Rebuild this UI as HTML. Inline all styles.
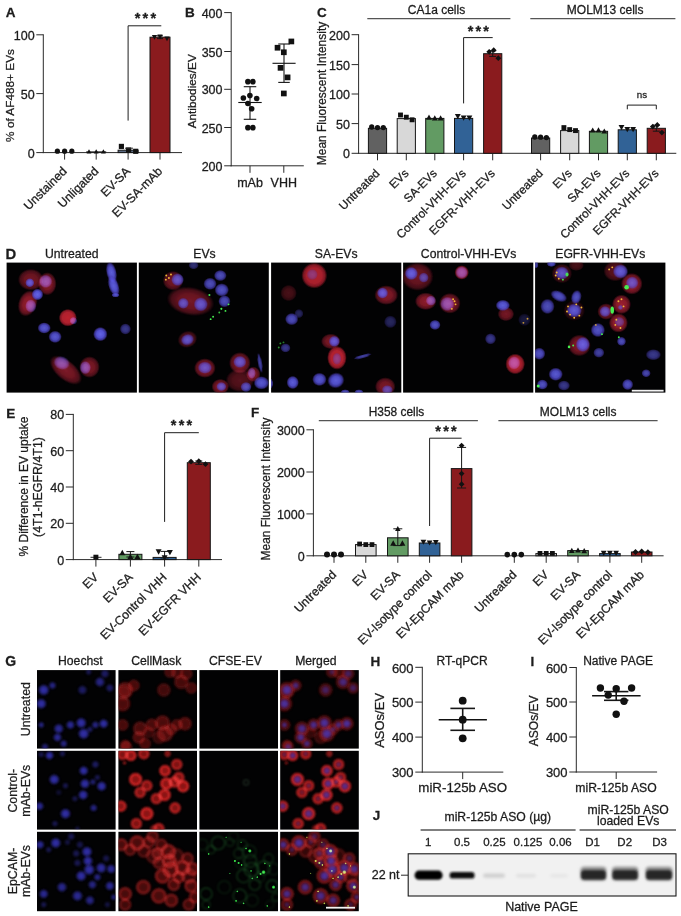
<!DOCTYPE html>
<html lang="en">
<head>
<meta charset="utf-8">
<title>Figure</title>
<style>
html,body{margin:0;padding:0;background:#ffffff;}
body{width:681px;height:916px;overflow:hidden;}
svg{display:block;font-family:"Liberation Sans",sans-serif;}
text{stroke:#1c1c1c;stroke-width:0.28px;}
</style>
</head>
<body>
<svg width="681" height="916" viewBox="0 0 681 916">
<defs>
<radialGradient id="gR" cx="50%" cy="50%" r="50%"><stop offset="0" stop-color="#9c2032" stop-opacity="1"/><stop offset="0.5" stop-color="#941c2c" stop-opacity="0.93"/><stop offset="0.8" stop-color="#7a1626" stop-opacity="0.75"/><stop offset="1" stop-color="#5a0f1a" stop-opacity="0"/></radialGradient>
<radialGradient id="gB" cx="50%" cy="50%" r="50%"><stop offset="0" stop-color="#6c6cf8" stop-opacity="1"/><stop offset="0.5" stop-color="#5e5cee" stop-opacity="0.96"/><stop offset="0.78" stop-color="#5248d0" stop-opacity="0.75"/><stop offset="1" stop-color="#402c90" stop-opacity="0"/></radialGradient>
<radialGradient id="gR2" cx="50%" cy="50%" r="50%"><stop offset="0" stop-color="#bc222e" stop-opacity="1"/><stop offset="0.6" stop-color="#b42030" stop-opacity="0.97"/><stop offset="0.82" stop-color="#981a28" stop-opacity="0.85"/><stop offset="1" stop-color="#701018" stop-opacity="0"/></radialGradient>
<radialGradient id="gG" cx="50%" cy="50%" r="50%"><stop offset="0" stop-color="#60ff70" stop-opacity="1"/><stop offset="0.5" stop-color="#30e040" stop-opacity="0.9"/><stop offset="1" stop-color="#20a030" stop-opacity="0"/></radialGradient>
<radialGradient id="gYG" cx="50%" cy="50%" r="50%"><stop offset="0" stop-color="#e8ff60" stop-opacity="1"/><stop offset="0.5" stop-color="#b0e040" stop-opacity="0.9"/><stop offset="1" stop-color="#60a030" stop-opacity="0"/></radialGradient>
<radialGradient id="gY" cx="50%" cy="50%" r="50%"><stop offset="0" stop-color="#ffd040" stop-opacity="1"/><stop offset="0.5" stop-color="#e0a030" stop-opacity="0.9"/><stop offset="1" stop-color="#a06020" stop-opacity="0"/></radialGradient>
<radialGradient id="hB" cx="50%" cy="50%" r="50%"><stop offset="0" stop-color="#3634b6" stop-opacity="1"/><stop offset="0.5" stop-color="#2f2da4" stop-opacity="0.95"/><stop offset="0.8" stop-color="#262486" stop-opacity="0.7"/><stop offset="1" stop-color="#1c1c60" stop-opacity="0"/></radialGradient>
<radialGradient id="hBm" cx="50%" cy="50%" r="50%"><stop offset="0" stop-color="#5038b4" stop-opacity="0.95"/><stop offset="0.5" stop-color="#4a32a6" stop-opacity="0.88"/><stop offset="0.8" stop-color="#4a288c" stop-opacity="0.5"/><stop offset="1" stop-color="#401870" stop-opacity="0"/></radialGradient>
<radialGradient id="hR0" cx="50%" cy="50%" r="50%"><stop offset="0" stop-color="#5c1010" stop-opacity="0.85"/><stop offset="0.5" stop-color="#641212" stop-opacity="0.88"/><stop offset="0.78" stop-color="#781616" stop-opacity="0.85"/><stop offset="1" stop-color="#400a0a" stop-opacity="0"/></radialGradient>
<radialGradient id="hR1" cx="50%" cy="50%" r="50%"><stop offset="0" stop-color="#861414" stop-opacity="0.95"/><stop offset="0.45" stop-color="#9c1818" stop-opacity="0.95"/><stop offset="0.74" stop-color="#e02a2a" stop-opacity="1"/><stop offset="0.88" stop-color="#b01c1c" stop-opacity="0.7"/><stop offset="1" stop-color="#701010" stop-opacity="0"/></radialGradient>
<radialGradient id="hR2" cx="50%" cy="50%" r="50%"><stop offset="0" stop-color="#561010" stop-opacity="0.9"/><stop offset="0.5" stop-color="#621212" stop-opacity="0.92"/><stop offset="0.76" stop-color="#a81e1e" stop-opacity="0.95"/><stop offset="0.9" stop-color="#841616" stop-opacity="0.6"/><stop offset="1" stop-color="#400a0a" stop-opacity="0"/></radialGradient>
<filter id="mb" x="-20%" y="-20%" width="140%" height="140%"><feGaussianBlur stdDeviation="0.7"/></filter>
<filter id="mb2" x="-30%" y="-30%" width="160%" height="160%"><feGaussianBlur stdDeviation="0.8"/></filter>
<filter id="mb3" x="-100%" y="-100%" width="300%" height="300%"><feGaussianBlur stdDeviation="0.35"/></filter>
<clipPath id="mc1"><rect x="6.60" y="262.60" width="130.30" height="130.00"/></clipPath>
<clipPath id="mc2"><rect x="138.80" y="262.60" width="130.00" height="130.00"/></clipPath>
<clipPath id="mc3"><rect x="271.10" y="262.60" width="130.20" height="130.00"/></clipPath>
<clipPath id="mc4"><rect x="403.10" y="262.60" width="130.20" height="130.00"/></clipPath>
<clipPath id="mc5"><rect x="535.10" y="262.60" width="130.30" height="130.00"/></clipPath>
<clipPath id="mc6"><rect x="37.00" y="670.10" width="78.60" height="78.50"/></clipPath>
<clipPath id="mc7"><rect x="118.40" y="670.10" width="78.60" height="78.50"/></clipPath>
<clipPath id="mc8"><rect x="199.40" y="670.10" width="78.60" height="78.50"/></clipPath>
<clipPath id="mc9"><rect x="280.20" y="670.10" width="78.60" height="78.50"/></clipPath>
<clipPath id="mc10"><rect x="37.00" y="750.80" width="78.60" height="78.80"/></clipPath>
<clipPath id="mc11"><rect x="118.40" y="750.80" width="78.60" height="78.80"/></clipPath>
<clipPath id="mc12"><rect x="199.40" y="750.80" width="78.60" height="78.80"/></clipPath>
<clipPath id="mc13"><rect x="280.20" y="750.80" width="78.60" height="78.80"/></clipPath>
<clipPath id="mc14"><rect x="37.00" y="831.80" width="78.60" height="79.40"/></clipPath>
<clipPath id="mc15"><rect x="118.40" y="831.80" width="78.60" height="79.40"/></clipPath>
<clipPath id="mc16"><rect x="199.40" y="831.80" width="78.60" height="79.40"/></clipPath>
<clipPath id="mc17"><rect x="280.20" y="831.80" width="78.60" height="79.40"/></clipPath>
<filter id="gb" x="-20%" y="-60%" width="140%" height="220%"><feGaussianBlur stdDeviation="1.3 1.1"/></filter>
<filter id="gb2" x="-20%" y="-60%" width="140%" height="220%"><feGaussianBlur stdDeviation="1.8 1.6"/></filter>
<clipPath id="gelclip"><rect x="408.7" y="854.2" width="267" height="41.4"/></clipPath>
</defs>
<rect x="0" y="0" width="681" height="916" fill="#ffffff"/>
<text x="5.70" y="17.40" font-size="13.5" font-weight="bold" fill="#1c1c1c">A</text>
<line x1="43.30" y1="34.30" x2="43.30" y2="153.10" stroke="#2a2a2a" stroke-width="1.0"/>
<line x1="36.30" y1="34.80" x2="43.30" y2="34.80" stroke="#2a2a2a" stroke-width="1.0"/>
<text x="34.60" y="39.80" font-size="12.5" text-anchor="end" fill="#1c1c1c">100</text>
<line x1="36.30" y1="93.60" x2="43.30" y2="93.60" stroke="#2a2a2a" stroke-width="1.0"/>
<text x="34.60" y="98.60" font-size="12.5" text-anchor="end" fill="#1c1c1c">50</text>
<line x1="36.30" y1="152.60" x2="43.30" y2="152.60" stroke="#2a2a2a" stroke-width="1.0"/>
<text x="34.60" y="157.60" font-size="12.5" text-anchor="end" fill="#1c1c1c">0</text>
<line x1="42.80" y1="152.60" x2="182.00" y2="152.60" stroke="#2a2a2a" stroke-width="1.0"/>
<line x1="64.60" y1="152.60" x2="64.60" y2="159.60" stroke="#2a2a2a" stroke-width="1.0"/>
<line x1="96.20" y1="152.60" x2="96.20" y2="159.60" stroke="#2a2a2a" stroke-width="1.0"/>
<line x1="128.10" y1="152.60" x2="128.10" y2="159.60" stroke="#2a2a2a" stroke-width="1.0"/>
<line x1="160.00" y1="152.60" x2="160.00" y2="159.60" stroke="#2a2a2a" stroke-width="1.0"/>
<text transform="translate(14.00 95.50) rotate(-90)" font-size="11.8" text-anchor="middle" fill="#1c1c1c">% of AF488+ EVs</text>
<text transform="translate(67.60 172.00) rotate(-45)" font-size="12.2" text-anchor="end" fill="#1c1c1c">Unstained</text>
<text transform="translate(99.20 172.00) rotate(-45)" font-size="12.2" text-anchor="end" fill="#1c1c1c">Unligated</text>
<text transform="translate(131.10 172.00) rotate(-45)" font-size="12.2" text-anchor="end" fill="#1c1c1c">EV-SA</text>
<text transform="translate(163.00 172.00) rotate(-45)" font-size="12.2" text-anchor="end" fill="#1c1c1c">EV-SA-mAb</text>
<rect x="118.10" y="150.20" width="20.00" height="2.40" fill="#5a6a82" stroke="#151515" stroke-width="1.0"/>
<rect x="150.00" y="37.20" width="20.00" height="115.40" fill="#8a1b1e" stroke="#151515" stroke-width="1.0"/>
<circle cx="57.40" cy="151.20" r="2.60" fill="#111"/>
<polygon points="89.00,149.22 86.58,153.58 91.42,153.58" fill="#111"/>
<circle cx="64.60" cy="151.20" r="2.60" fill="#111"/>
<polygon points="96.20,149.22 93.78,153.58 98.62,153.58" fill="#111"/>
<circle cx="71.80" cy="151.20" r="2.60" fill="#111"/>
<polygon points="103.40,149.22 100.98,153.58 105.82,153.58" fill="#111"/>
<line x1="86.20" y1="152.00" x2="106.20" y2="152.00" stroke="#111" stroke-width="1.2"/>
<rect x="118.82" y="143.82" width="5.15" height="5.15" fill="#111"/>
<rect x="126.02" y="147.42" width="5.15" height="5.15" fill="#111"/>
<rect x="133.12" y="148.72" width="5.15" height="5.15" fill="#111"/>
<line x1="125.00" y1="148.20" x2="133.00" y2="148.20" stroke="#2a2a2a" stroke-width="1.0"/>
<line x1="160.00" y1="35.80" x2="160.00" y2="38.60" stroke="#161616" stroke-width="1.0"/>
<line x1="157.00" y1="35.80" x2="163.00" y2="35.80" stroke="#161616" stroke-width="1.0"/>
<line x1="157.00" y1="38.60" x2="163.00" y2="38.60" stroke="#161616" stroke-width="1.0"/>
<polygon points="154.50,39.78 151.86,35.02 157.14,35.02" fill="#111"/>
<polygon points="160.00,39.38 157.36,34.62 162.64,34.62" fill="#111"/>
<polygon points="167.00,41.18 164.36,36.42 169.64,36.42" fill="#111"/>
<polyline points="128.10,120.60 128.10,25.80 161.30,25.80" fill="none" stroke="#1e1e1e" stroke-width="1.0"/>
<text x="146.50" y="22.70" font-size="14.5" text-anchor="middle" font-weight="bold" fill="#1c1c1c" letter-spacing="2.2">***</text>
<text x="185.00" y="17.20" font-size="13.5" font-weight="bold" fill="#1c1c1c">B</text>
<line x1="231.20" y1="12.10" x2="231.20" y2="166.30" stroke="#2a2a2a" stroke-width="1.0"/>
<line x1="224.20" y1="12.60" x2="231.20" y2="12.60" stroke="#2a2a2a" stroke-width="1.0"/>
<text x="222.50" y="17.60" font-size="12.5" text-anchor="end" fill="#1c1c1c">400</text>
<line x1="224.20" y1="51.50" x2="231.20" y2="51.50" stroke="#2a2a2a" stroke-width="1.0"/>
<text x="222.50" y="56.50" font-size="12.5" text-anchor="end" fill="#1c1c1c">350</text>
<line x1="224.20" y1="89.30" x2="231.20" y2="89.30" stroke="#2a2a2a" stroke-width="1.0"/>
<text x="222.50" y="94.30" font-size="12.5" text-anchor="end" fill="#1c1c1c">300</text>
<line x1="224.20" y1="127.50" x2="231.20" y2="127.50" stroke="#2a2a2a" stroke-width="1.0"/>
<text x="222.50" y="132.50" font-size="12.5" text-anchor="end" fill="#1c1c1c">250</text>
<line x1="224.20" y1="165.80" x2="231.20" y2="165.80" stroke="#2a2a2a" stroke-width="1.0"/>
<text x="222.50" y="170.80" font-size="12.5" text-anchor="end" fill="#1c1c1c">200</text>
<line x1="230.70" y1="165.80" x2="303.80" y2="165.80" stroke="#2a2a2a" stroke-width="1.0"/>
<line x1="250.00" y1="165.80" x2="250.00" y2="172.80" stroke="#2a2a2a" stroke-width="1.0"/>
<line x1="283.80" y1="165.80" x2="283.80" y2="172.80" stroke="#2a2a2a" stroke-width="1.0"/>
<text transform="translate(196.00 91.30) rotate(-90)" font-size="11.8" text-anchor="middle" fill="#1c1c1c">Antibodies/EV</text>
<text x="250.00" y="187.20" font-size="12.5" text-anchor="middle" fill="#1c1c1c">mAb</text>
<text x="283.80" y="187.20" font-size="12.5" text-anchor="middle" fill="#1c1c1c">VHH</text>
<line x1="238.30" y1="102.50" x2="261.70" y2="102.50" stroke="#111" stroke-width="1.1"/>
<line x1="250.00" y1="86.70" x2="250.00" y2="119.30" stroke="#161616" stroke-width="1.1"/>
<line x1="243.75" y1="86.70" x2="256.25" y2="86.70" stroke="#161616" stroke-width="1.1"/>
<line x1="243.75" y1="119.30" x2="256.25" y2="119.30" stroke="#161616" stroke-width="1.1"/>
<circle cx="247.89" cy="81.66" r="2.80" fill="#111"/>
<circle cx="252.91" cy="81.66" r="2.80" fill="#111"/>
<circle cx="243.37" cy="97.99" r="2.80" fill="#111"/>
<circle cx="249.90" cy="95.48" r="2.80" fill="#111"/>
<circle cx="256.68" cy="98.49" r="2.80" fill="#111"/>
<circle cx="247.89" cy="103.52" r="2.80" fill="#111"/>
<circle cx="251.66" cy="108.79" r="2.80" fill="#111"/>
<circle cx="247.89" cy="127.64" r="2.80" fill="#111"/>
<circle cx="252.91" cy="127.64" r="2.80" fill="#111"/>
<line x1="272.50" y1="63.30" x2="295.60" y2="63.30" stroke="#111" stroke-width="1.1"/>
<line x1="284.00" y1="44.00" x2="284.00" y2="82.40" stroke="#161616" stroke-width="1.1"/>
<line x1="278.25" y1="44.00" x2="289.75" y2="44.00" stroke="#161616" stroke-width="1.1"/>
<line x1="278.25" y1="82.40" x2="289.75" y2="82.40" stroke="#161616" stroke-width="1.1"/>
<rect x="288.50" y="38.61" width="5.70" height="5.70" fill="#111"/>
<rect x="274.69" y="44.89" width="5.70" height="5.70" fill="#111"/>
<rect x="280.97" y="49.41" width="5.70" height="5.70" fill="#111"/>
<rect x="277.70" y="64.99" width="5.70" height="5.70" fill="#111"/>
<rect x="284.74" y="74.53" width="5.70" height="5.70" fill="#111"/>
<rect x="280.97" y="90.62" width="5.70" height="5.70" fill="#111"/>
<text x="317.00" y="17.00" font-size="13.5" font-weight="bold" fill="#1c1c1c">C</text>
<line x1="358.60" y1="34.20" x2="358.60" y2="153.80" stroke="#2a2a2a" stroke-width="1.0"/>
<line x1="351.60" y1="34.70" x2="358.60" y2="34.70" stroke="#2a2a2a" stroke-width="1.0"/>
<text x="349.90" y="39.70" font-size="12.5" text-anchor="end" fill="#1c1c1c">200</text>
<line x1="351.60" y1="64.60" x2="358.60" y2="64.60" stroke="#2a2a2a" stroke-width="1.0"/>
<text x="349.90" y="69.60" font-size="12.5" text-anchor="end" fill="#1c1c1c">150</text>
<line x1="351.60" y1="94.00" x2="358.60" y2="94.00" stroke="#2a2a2a" stroke-width="1.0"/>
<text x="349.90" y="99.00" font-size="12.5" text-anchor="end" fill="#1c1c1c">100</text>
<line x1="351.60" y1="123.60" x2="358.60" y2="123.60" stroke="#2a2a2a" stroke-width="1.0"/>
<text x="349.90" y="128.60" font-size="12.5" text-anchor="end" fill="#1c1c1c">50</text>
<line x1="351.60" y1="153.30" x2="358.60" y2="153.30" stroke="#2a2a2a" stroke-width="1.0"/>
<text x="349.90" y="158.30" font-size="12.5" text-anchor="end" fill="#1c1c1c">0</text>
<line x1="358.10" y1="153.30" x2="676.30" y2="153.30" stroke="#2a2a2a" stroke-width="1.0"/>
<line x1="377.50" y1="153.30" x2="377.50" y2="160.30" stroke="#2a2a2a" stroke-width="1.0"/>
<line x1="406.30" y1="153.30" x2="406.30" y2="160.30" stroke="#2a2a2a" stroke-width="1.0"/>
<line x1="434.80" y1="153.30" x2="434.80" y2="160.30" stroke="#2a2a2a" stroke-width="1.0"/>
<line x1="463.60" y1="153.30" x2="463.60" y2="160.30" stroke="#2a2a2a" stroke-width="1.0"/>
<line x1="492.70" y1="153.30" x2="492.70" y2="160.30" stroke="#2a2a2a" stroke-width="1.0"/>
<line x1="540.60" y1="153.30" x2="540.60" y2="160.30" stroke="#2a2a2a" stroke-width="1.0"/>
<line x1="569.70" y1="153.30" x2="569.70" y2="160.30" stroke="#2a2a2a" stroke-width="1.0"/>
<line x1="598.50" y1="153.30" x2="598.50" y2="160.30" stroke="#2a2a2a" stroke-width="1.0"/>
<line x1="627.30" y1="153.30" x2="627.30" y2="160.30" stroke="#2a2a2a" stroke-width="1.0"/>
<line x1="656.30" y1="153.30" x2="656.30" y2="160.30" stroke="#2a2a2a" stroke-width="1.0"/>
<text transform="translate(326.30 93.50) rotate(-90)" font-size="11.95" text-anchor="middle" fill="#1c1c1c">Mean Fluorescent Intensity</text>
<text transform="translate(380.50 174.00) rotate(-45)" font-size="11.8" text-anchor="end" fill="#1c1c1c">Untreated</text>
<text transform="translate(409.30 174.00) rotate(-45)" font-size="11.8" text-anchor="end" fill="#1c1c1c">EVs</text>
<text transform="translate(437.80 174.00) rotate(-45)" font-size="11.8" text-anchor="end" fill="#1c1c1c">SA-EVs</text>
<text transform="translate(466.60 174.00) rotate(-45)" font-size="11.8" text-anchor="end" fill="#1c1c1c">Control-VHH-EVs</text>
<text transform="translate(495.70 174.00) rotate(-45)" font-size="11.8" text-anchor="end" fill="#1c1c1c">EGFR-VHH-EVs</text>
<text transform="translate(543.60 174.00) rotate(-45)" font-size="11.8" text-anchor="end" fill="#1c1c1c">Untreated</text>
<text transform="translate(572.70 174.00) rotate(-45)" font-size="11.8" text-anchor="end" fill="#1c1c1c">EVs</text>
<text transform="translate(601.50 174.00) rotate(-45)" font-size="11.8" text-anchor="end" fill="#1c1c1c">SA-EVs</text>
<text transform="translate(630.30 174.00) rotate(-45)" font-size="11.8" text-anchor="end" fill="#1c1c1c">Control-VHH-EVs</text>
<text transform="translate(659.30 174.00) rotate(-45)" font-size="11.8" text-anchor="end" fill="#1c1c1c">EGFR-VHH-EVs</text>
<text x="436.50" y="13.90" font-size="12.0" text-anchor="middle" fill="#1c1c1c">CA1a cells</text>
<text x="605.20" y="13.90" font-size="12.0" text-anchor="middle" fill="#1c1c1c">MOLM13 cells</text>
<line x1="367.30" y1="18.70" x2="510.40" y2="18.70" stroke="#555" stroke-width="1.3"/>
<line x1="530.30" y1="18.70" x2="675.40" y2="18.70" stroke="#555" stroke-width="1.3"/>
<rect x="368.40" y="128.30" width="18.20" height="25.00" fill="#616161" stroke="#151515" stroke-width="1.0"/>
<rect x="397.20" y="118.60" width="18.20" height="34.70" fill="#d8d8d8" stroke="#151515" stroke-width="1.0"/>
<rect x="425.70" y="118.40" width="18.20" height="34.90" fill="#629b63" stroke="#151515" stroke-width="1.0"/>
<rect x="454.50" y="118.40" width="18.20" height="34.90" fill="#316296" stroke="#151515" stroke-width="1.0"/>
<rect x="483.60" y="53.70" width="18.20" height="99.60" fill="#8a1b1e" stroke="#151515" stroke-width="1.0"/>
<rect x="531.50" y="138.00" width="18.20" height="15.30" fill="#616161" stroke="#151515" stroke-width="1.0"/>
<rect x="560.60" y="130.60" width="18.20" height="22.70" fill="#d8d8d8" stroke="#151515" stroke-width="1.0"/>
<rect x="589.40" y="131.30" width="18.20" height="22.00" fill="#629b63" stroke="#151515" stroke-width="1.0"/>
<rect x="618.20" y="129.80" width="18.20" height="23.50" fill="#316296" stroke="#151515" stroke-width="1.0"/>
<rect x="647.20" y="128.30" width="18.20" height="25.00" fill="#8a1b1e" stroke="#151515" stroke-width="1.0"/>
<circle cx="371.70" cy="127.00" r="2.65" fill="#111"/>
<circle cx="377.50" cy="127.60" r="2.65" fill="#111"/>
<circle cx="383.30" cy="127.60" r="2.65" fill="#111"/>
<rect x="398.06" y="112.56" width="4.88" height="4.88" fill="#111"/>
<rect x="403.86" y="114.76" width="4.88" height="4.88" fill="#111"/>
<rect x="409.66" y="117.36" width="4.88" height="4.88" fill="#111"/>
<polygon points="429.00,114.58 426.08,119.82 431.92,119.82" fill="#111"/>
<polygon points="434.80,115.18 431.88,120.42 437.72,120.42" fill="#111"/>
<polygon points="440.60,115.18 437.69,120.42 443.52,120.42" fill="#111"/>
<polygon points="457.80,119.22 454.88,113.98 460.72,113.98" fill="#111"/>
<polygon points="463.60,120.82 460.69,115.58 466.52,115.58" fill="#111"/>
<polygon points="469.40,120.82 466.49,115.58 472.32,115.58" fill="#111"/>
<line x1="492.70" y1="50.80" x2="492.70" y2="56.40" stroke="#161616" stroke-width="1.0"/>
<line x1="489.20" y1="50.80" x2="496.20" y2="50.80" stroke="#161616" stroke-width="1.0"/>
<line x1="489.20" y1="56.40" x2="496.20" y2="56.40" stroke="#161616" stroke-width="1.0"/>
<polygon points="489.20,48.92 492.07,51.80 489.20,54.67 486.32,51.80" fill="#111"/>
<polygon points="493.70,47.33 496.57,50.20 493.70,53.08 490.82,50.20" fill="#111"/>
<polygon points="498.30,55.33 501.18,58.20 498.30,61.08 495.43,58.20" fill="#111"/>
<circle cx="534.80" cy="137.00" r="2.65" fill="#111"/>
<circle cx="540.60" cy="137.20" r="2.65" fill="#111"/>
<circle cx="546.40" cy="137.60" r="2.65" fill="#111"/>
<rect x="561.46" y="125.16" width="4.88" height="4.88" fill="#111"/>
<rect x="567.26" y="127.16" width="4.88" height="4.88" fill="#111"/>
<rect x="573.06" y="128.16" width="4.88" height="4.88" fill="#111"/>
<polygon points="592.70,127.38 589.79,132.62 595.62,132.62" fill="#111"/>
<polygon points="598.50,127.18 595.59,132.42 601.41,132.42" fill="#111"/>
<polygon points="604.30,128.38 601.38,133.62 607.21,133.62" fill="#111"/>
<polygon points="621.50,130.22 618.59,124.98 624.41,124.98" fill="#111"/>
<polygon points="627.30,132.22 624.38,126.98 630.21,126.98" fill="#111"/>
<polygon points="633.10,132.22 630.18,126.98 636.01,126.98" fill="#111"/>
<line x1="656.30" y1="125.20" x2="656.30" y2="131.20" stroke="#161616" stroke-width="1.0"/>
<line x1="652.80" y1="125.20" x2="659.80" y2="125.20" stroke="#161616" stroke-width="1.0"/>
<line x1="652.80" y1="131.20" x2="659.80" y2="131.20" stroke="#161616" stroke-width="1.0"/>
<polygon points="652.80,123.72 655.67,126.60 652.80,129.47 649.92,126.60" fill="#111"/>
<polygon points="657.30,122.12 660.17,125.00 657.30,127.88 654.42,125.00" fill="#111"/>
<polygon points="661.90,129.72 664.77,132.60 661.90,135.47 659.02,132.60" fill="#111"/>
<polyline points="463.60,103.40 463.60,37.60 492.70,37.60" fill="none" stroke="#1e1e1e" stroke-width="1.0"/>
<text x="479.40" y="35.60" font-size="14.5" text-anchor="middle" font-weight="bold" fill="#1c1c1c" letter-spacing="2.2">***</text>
<polyline points="627.30,109.30 627.30,105.10 656.30,105.10 656.30,109.30" fill="none" stroke="#1e1e1e" stroke-width="1.0"/>
<text x="642.00" y="97.50" font-size="9.8" text-anchor="middle" fill="#1c1c1c">ns</text>
<text x="5.40" y="259.20" font-size="14.8" font-weight="bold" fill="#1c1c1c">D</text>
<text x="71.70" y="258.20" font-size="12.2" text-anchor="middle" fill="#1c1c1c">Untreated</text>
<text x="204.50" y="258.20" font-size="12.2" text-anchor="middle" fill="#1c1c1c">EVs</text>
<text x="336.20" y="258.20" font-size="12.2" text-anchor="middle" fill="#1c1c1c">SA-EVs</text>
<text x="468.60" y="258.20" font-size="12.2" text-anchor="middle" fill="#1c1c1c">Control-VHH-EVs</text>
<text x="600.30" y="258.20" font-size="12.2" text-anchor="middle" fill="#1c1c1c">EGFR-VHH-EVs</text>
<rect x="6.60" y="262.60" width="130.30" height="130.00" fill="#020203"/>
<g clip-path="url(#mc1)" style="isolation:isolate">
<ellipse cx="30.84" cy="279.67" rx="13.16" ry="11.05" fill="url(#gR)" opacity="0.75" filter="url(#mb)" style="mix-blend-mode:screen"/>
<ellipse cx="47.29" cy="283.78" rx="9.47" ry="11.84" fill="url(#gR)" opacity="0.85" filter="url(#mb)" style="mix-blend-mode:screen"/>
<ellipse cx="27.75" cy="303.31" rx="9.47" ry="13.68" fill="url(#gR)" opacity="0.95" transform="rotate(20 27.75 303.31)" filter="url(#mb)" style="mix-blend-mode:screen"/>
<ellipse cx="67.85" cy="317.71" rx="9.21" ry="8.95" fill="url(#gR2)" filter="url(#mb)" style="mix-blend-mode:screen"/>
<ellipse cx="65.79" cy="370.13" rx="19.74" ry="10.00" fill="url(#gR)" opacity="0.80" transform="rotate(40 65.79 370.13)" filter="url(#mb)" style="mix-blend-mode:screen"/>
<ellipse cx="89.43" cy="367.05" rx="10.53" ry="11.05" fill="url(#gR)" opacity="0.80" filter="url(#mb)" style="mix-blend-mode:screen"/>
<ellipse cx="29.81" cy="282.75" rx="4.74" ry="4.74" fill="url(#gB)" opacity="0.83" filter="url(#mb)"/>
<ellipse cx="45.64" cy="281.32" rx="6.84" ry="6.84" fill="url(#gB)" opacity="0.64" filter="url(#mb)" style="mix-blend-mode:screen"/>
<ellipse cx="37.42" cy="294.47" rx="6.05" ry="6.05" fill="url(#gB)" opacity="0.92" filter="url(#mb)"/>
<ellipse cx="30.84" cy="305.99" rx="5.79" ry="6.84" fill="url(#gB)" opacity="0.61" filter="url(#mb)" style="mix-blend-mode:screen"/>
<ellipse cx="111.43" cy="272.48" rx="5.26" ry="11.05" fill="url(#gB)" opacity="0.87" transform="rotate(-12 111.43 272.48)" filter="url(#mb)"/>
<ellipse cx="113.69" cy="285.84" rx="5.26" ry="11.05" fill="url(#gB)" opacity="0.87" transform="rotate(-18 113.69 285.84)" filter="url(#mb)"/>
<ellipse cx="115.54" cy="295.09" rx="4.21" ry="2.37" fill="url(#gB)" opacity="0.74" filter="url(#mb)"/>
<ellipse cx="73.40" cy="320.79" rx="3.95" ry="3.95" fill="url(#gB)" opacity="0.58" filter="url(#mb)" style="mix-blend-mode:screen"/>
<ellipse cx="44.20" cy="327.99" rx="6.84" ry="5.79" fill="url(#gB)" opacity="0.83" filter="url(#mb)"/>
<ellipse cx="55.10" cy="336.83" rx="6.84" ry="6.32" fill="url(#gB)" opacity="0.83" filter="url(#mb)"/>
<ellipse cx="100.33" cy="334.15" rx="7.37" ry="7.37" fill="url(#gB)" opacity="0.92" filter="url(#mb)"/>
<ellipse cx="125.41" cy="329.01" rx="5.79" ry="5.79" fill="url(#gB)" opacity="0.55" filter="url(#mb)"/>
<ellipse cx="61.68" cy="362.94" rx="8.42" ry="6.84" fill="url(#gB)" opacity="0.64" transform="rotate(20 61.68 362.94)" filter="url(#mb)" style="mix-blend-mode:screen"/>
<ellipse cx="85.32" cy="367.66" rx="5.79" ry="6.84" fill="url(#gB)" opacity="0.64" filter="url(#mb)" style="mix-blend-mode:screen"/>
</g>
<rect x="138.80" y="262.60" width="130.00" height="130.00" fill="#020203"/>
<g clip-path="url(#mc2)" style="isolation:isolate">
<ellipse cx="173.03" cy="280.70" rx="10.53" ry="10.00" fill="url(#gR)" opacity="0.75" filter="url(#mb)" style="mix-blend-mode:screen"/>
<ellipse cx="190.51" cy="301.26" rx="24.21" ry="14.47" fill="url(#gR)" opacity="0.75" transform="rotate(10 190.51 301.26)" filter="url(#mb)" style="mix-blend-mode:screen"/>
<ellipse cx="187.43" cy="339.29" rx="10.00" ry="8.42" fill="url(#gR)" opacity="0.60" transform="rotate(-20 187.43 339.29)" filter="url(#mb)" style="mix-blend-mode:screen"/>
<ellipse cx="204.90" cy="368.08" rx="11.05" ry="10.00" fill="url(#gR)" opacity="0.90" filter="url(#mb)" style="mix-blend-mode:screen"/>
<ellipse cx="239.85" cy="362.94" rx="11.05" ry="11.05" fill="url(#gR)" opacity="0.85" filter="url(#mb)" style="mix-blend-mode:screen"/>
<ellipse cx="239.85" cy="380.41" rx="14.47" ry="11.84" fill="url(#gR)" opacity="0.55" filter="url(#mb)" style="mix-blend-mode:screen"/>
<ellipse cx="253.22" cy="374.24" rx="7.37" ry="7.89" fill="url(#gR)" opacity="0.80" filter="url(#mb)" style="mix-blend-mode:screen"/>
<ellipse cx="220.32" cy="386.58" rx="8.95" ry="7.89" fill="url(#gR)" opacity="0.85" filter="url(#mb)" style="mix-blend-mode:screen"/>
<ellipse cx="193.59" cy="265.28" rx="5.26" ry="4.21" fill="url(#gB)" opacity="0.46" filter="url(#mb)"/>
<ellipse cx="177.56" cy="279.67" rx="6.58" ry="6.58" fill="url(#gB)" opacity="0.78" filter="url(#mb)"/>
<ellipse cx="220.32" cy="275.56" rx="6.58" ry="5.79" fill="url(#gB)" opacity="0.74" filter="url(#mb)"/>
<ellipse cx="210.04" cy="283.78" rx="6.84" ry="6.32" fill="url(#gB)" opacity="0.74" filter="url(#mb)"/>
<ellipse cx="221.76" cy="289.95" rx="7.37" ry="6.84" fill="url(#gB)" opacity="0.78" filter="url(#mb)"/>
<ellipse cx="224.43" cy="301.26" rx="6.32" ry="6.32" fill="url(#gB)" opacity="0.74" filter="url(#mb)"/>
<ellipse cx="183.31" cy="303.31" rx="5.79" ry="5.79" fill="url(#gB)" opacity="0.74" filter="url(#mb)"/>
<ellipse cx="200.79" cy="304.34" rx="7.37" ry="7.37" fill="url(#gB)" opacity="0.78" filter="url(#mb)"/>
<ellipse cx="187.43" cy="339.70" rx="6.84" ry="5.79" fill="url(#gB)" opacity="0.78" transform="rotate(-20 187.43 339.70)" filter="url(#mb)"/>
<ellipse cx="204.90" cy="367.66" rx="7.37" ry="6.32" fill="url(#gB)" opacity="0.74" filter="url(#mb)"/>
<ellipse cx="239.85" cy="361.91" rx="6.84" ry="6.32" fill="url(#gB)" opacity="0.78" filter="url(#mb)"/>
<ellipse cx="251.78" cy="373.22" rx="4.21" ry="5.79" fill="url(#gB)" opacity="0.58" filter="url(#mb)" style="mix-blend-mode:screen"/>
<ellipse cx="246.02" cy="386.99" rx="5.79" ry="5.26" fill="url(#gB)" opacity="0.74" filter="url(#mb)"/>
<ellipse cx="221.35" cy="386.58" rx="5.26" ry="4.74" fill="url(#gB)" opacity="0.74" filter="url(#mb)"/>
<ellipse cx="261.44" cy="382.88" rx="7.89" ry="6.84" fill="url(#gB)" opacity="0.83" filter="url(#mb)"/>
<ellipse cx="260.00" cy="362.94" rx="2.11" ry="10.53" fill="url(#gB)" opacity="0.64" transform="rotate(-10 260.00 362.94)" filter="url(#mb)"/>
<ellipse cx="166.25" cy="275.56" rx="0.95" ry="0.95" fill="#f0b838" opacity="1.00"/>
<ellipse cx="168.92" cy="278.03" rx="0.95" ry="0.95" fill="#f0b838" opacity="1.00"/>
<ellipse cx="165.84" cy="279.67" rx="0.95" ry="0.95" fill="#f0b838" opacity="1.00"/>
<ellipse cx="170.98" cy="274.53" rx="0.95" ry="0.95" fill="#f0b838" opacity="1.00"/>
<ellipse cx="209.42" cy="295.09" rx="1.03" ry="1.03" fill="#46f050" opacity="1.00"/>
<ellipse cx="221.35" cy="308.87" rx="1.03" ry="1.03" fill="#46f050" opacity="1.00"/>
<ellipse cx="225.46" cy="310.92" rx="0.95" ry="0.95" fill="#46f050" opacity="1.00"/>
<ellipse cx="228.54" cy="304.34" rx="0.95" ry="0.95" fill="#46f050" opacity="1.00"/>
<ellipse cx="213.12" cy="316.68" rx="0.95" ry="0.95" fill="#46f050" opacity="1.00"/>
<ellipse cx="210.66" cy="319.14" rx="0.95" ry="0.95" fill="#46f050" opacity="1.00"/>
<ellipse cx="219.29" cy="312.57" rx="0.95" ry="0.95" fill="#46f050" opacity="0.80"/>
</g>
<rect x="271.10" y="262.60" width="130.20" height="130.00" fill="#020203"/>
<g clip-path="url(#mc3)" style="isolation:isolate">
<ellipse cx="314.31" cy="275.56" rx="13.16" ry="13.16" fill="url(#gR2)" opacity="0.95" filter="url(#mb)" style="mix-blend-mode:screen"/>
<ellipse cx="288.62" cy="293.03" rx="8.42" ry="8.42" fill="url(#gR)" opacity="0.45" filter="url(#mb)" style="mix-blend-mode:screen"/>
<ellipse cx="386.27" cy="295.09" rx="12.11" ry="10.00" fill="url(#gR)" opacity="0.85" filter="url(#mb)" style="mix-blend-mode:screen"/>
<ellipse cx="330.76" cy="341.35" rx="10.00" ry="7.89" fill="url(#gR)" opacity="0.80" filter="url(#mb)" style="mix-blend-mode:screen"/>
<ellipse cx="336.93" cy="357.80" rx="10.00" ry="12.11" fill="url(#gR2)" filter="url(#mb)" style="mix-blend-mode:screen"/>
<ellipse cx="385.24" cy="386.58" rx="10.53" ry="9.47" fill="url(#gR)" opacity="0.80" filter="url(#mb)" style="mix-blend-mode:screen"/>
<ellipse cx="312.26" cy="274.53" rx="5.79" ry="5.79" fill="url(#gB)" opacity="0.37" filter="url(#mb)"/>
<ellipse cx="382.57" cy="293.03" rx="5.79" ry="5.79" fill="url(#gB)" opacity="0.83" filter="url(#mb)"/>
<ellipse cx="291.70" cy="319.14" rx="6.84" ry="6.32" fill="url(#gB)" opacity="0.74" filter="url(#mb)"/>
<ellipse cx="298.89" cy="313.59" rx="4.74" ry="4.74" fill="url(#gB)" opacity="0.37" filter="url(#mb)"/>
<ellipse cx="390.38" cy="321.82" rx="6.58" ry="6.58" fill="url(#gB)" opacity="0.37" filter="url(#mb)"/>
<ellipse cx="334.26" cy="341.35" rx="5.79" ry="5.79" fill="url(#gB)" opacity="0.83" filter="url(#mb)"/>
<ellipse cx="336.93" cy="358.82" rx="4.74" ry="6.32" fill="url(#gB)" opacity="0.41" filter="url(#mb)"/>
<ellipse cx="285.53" cy="347.93" rx="5.26" ry="4.74" fill="url(#gB)" opacity="0.55" filter="url(#mb)"/>
<ellipse cx="362.63" cy="356.36" rx="9.47" ry="1.84" fill="url(#gB)" opacity="0.64" transform="rotate(-15 362.63 356.36)" filter="url(#mb)"/>
<ellipse cx="292.73" cy="382.47" rx="6.32" ry="6.84" fill="url(#gB)" opacity="0.87" filter="url(#mb)"/>
<ellipse cx="319.45" cy="379.38" rx="7.37" ry="6.84" fill="url(#gB)" opacity="0.83" filter="url(#mb)"/>
<ellipse cx="335.90" cy="380.41" rx="8.68" ry="7.89" fill="url(#gB)" opacity="0.87" transform="rotate(-20 335.90 380.41)" filter="url(#mb)"/>
<ellipse cx="387.30" cy="389.66" rx="5.79" ry="4.74" fill="url(#gB)" opacity="0.64" filter="url(#mb)"/>
<ellipse cx="345.15" cy="392.34" rx="4.74" ry="3.16" fill="url(#gB)" opacity="0.74" filter="url(#mb)"/>
<ellipse cx="358.93" cy="392.34" rx="4.74" ry="3.16" fill="url(#gB)" opacity="0.74" filter="url(#mb)"/>
<ellipse cx="270.11" cy="383.50" rx="3.16" ry="5.79" fill="url(#gB)" opacity="0.74" filter="url(#mb)"/>
<ellipse cx="280.39" cy="343.40" rx="0.95" ry="0.95" fill="#46f050" opacity="0.60"/>
<ellipse cx="278.75" cy="347.52" rx="0.95" ry="0.95" fill="#46f050" opacity="0.60"/>
<ellipse cx="283.48" cy="342.38" rx="0.95" ry="0.95" fill="#46f050" opacity="0.50"/>
</g>
<rect x="403.10" y="262.60" width="130.20" height="130.00" fill="#020203"/>
<g clip-path="url(#mc4)" style="isolation:isolate">
<ellipse cx="417.53" cy="276.59" rx="16.32" ry="14.47" fill="url(#gR)" opacity="0.70" filter="url(#mb)" style="mix-blend-mode:screen"/>
<ellipse cx="461.73" cy="272.48" rx="7.37" ry="7.37" fill="url(#gR2)" opacity="0.75" filter="url(#mb)" style="mix-blend-mode:screen"/>
<ellipse cx="425.75" cy="301.26" rx="11.05" ry="8.95" fill="url(#gR)" opacity="0.90" filter="url(#mb)" style="mix-blend-mode:screen"/>
<ellipse cx="449.81" cy="303.31" rx="11.05" ry="10.53" fill="url(#gR)" opacity="0.85" filter="url(#mb)" style="mix-blend-mode:screen"/>
<ellipse cx="505.94" cy="314.00" rx="8.42" ry="7.37" fill="url(#gR)" opacity="0.75" filter="url(#mb)" style="mix-blend-mode:screen"/>
<ellipse cx="515.19" cy="363.96" rx="10.00" ry="10.53" fill="url(#gR2)" opacity="0.95" filter="url(#mb)" style="mix-blend-mode:screen"/>
<ellipse cx="411.36" cy="273.50" rx="6.84" ry="6.84" fill="url(#gB)" opacity="0.87" filter="url(#mb)"/>
<ellipse cx="423.70" cy="277.62" rx="5.26" ry="5.26" fill="url(#gB)" opacity="0.64" filter="url(#mb)"/>
<ellipse cx="461.73" cy="272.48" rx="6.32" ry="6.32" fill="url(#gB)" opacity="0.61" filter="url(#mb)" style="mix-blend-mode:screen"/>
<ellipse cx="430.89" cy="300.64" rx="5.26" ry="5.26" fill="url(#gB)" opacity="0.64" filter="url(#mb)" style="mix-blend-mode:screen"/>
<ellipse cx="447.34" cy="303.93" rx="7.37" ry="7.37" fill="url(#gB)" opacity="0.64" filter="url(#mb)" style="mix-blend-mode:screen"/>
<ellipse cx="502.85" cy="305.37" rx="7.37" ry="5.79" fill="url(#gB)" opacity="0.87" filter="url(#mb)"/>
<ellipse cx="435.01" cy="324.90" rx="5.79" ry="5.26" fill="url(#gB)" opacity="0.78" filter="url(#mb)"/>
<ellipse cx="490.52" cy="338.88" rx="5.79" ry="5.79" fill="url(#gB)" opacity="0.55" filter="url(#mb)"/>
<ellipse cx="524.44" cy="319.76" rx="6.58" ry="6.58" fill="url(#gB)" opacity="0.23" filter="url(#mb)"/>
<ellipse cx="514.16" cy="362.94" rx="6.32" ry="6.84" fill="url(#gB)" opacity="0.58" filter="url(#mb)" style="mix-blend-mode:screen"/>
<ellipse cx="453.10" cy="299.20" rx="0.95" ry="0.95" fill="#f0b838" opacity="1.00"/>
<ellipse cx="455.57" cy="304.34" rx="0.95" ry="0.95" fill="#f0b838" opacity="1.00"/>
<ellipse cx="451.87" cy="308.87" rx="0.95" ry="0.95" fill="#f0b838" opacity="1.00"/>
<ellipse cx="454.54" cy="301.26" rx="0.95" ry="0.95" fill="#f0b838" opacity="1.00"/>
<ellipse cx="523.41" cy="322.85" rx="0.95" ry="0.95" fill="#f0b838" opacity="0.80"/>
<ellipse cx="527.52" cy="318.73" rx="0.95" ry="0.95" fill="#f0b838" opacity="0.80"/>
</g>
<rect x="535.10" y="262.60" width="130.30" height="130.00" fill="#020203"/>
<g clip-path="url(#mc5)" style="isolation:isolate">
<ellipse cx="561.87" cy="273.50" rx="10.53" ry="10.00" fill="url(#gR)" opacity="0.50" filter="url(#mb)" style="mix-blend-mode:screen"/>
<ellipse cx="576.26" cy="265.28" rx="7.89" ry="5.79" fill="url(#gR)" opacity="0.45" filter="url(#mb)" style="mix-blend-mode:screen"/>
<ellipse cx="615.32" cy="271.04" rx="12.11" ry="10.53" fill="url(#gR)" opacity="0.60" filter="url(#mb)" style="mix-blend-mode:screen"/>
<ellipse cx="631.77" cy="283.78" rx="11.05" ry="11.05" fill="url(#gR)" filter="url(#mb)" style="mix-blend-mode:screen"/>
<ellipse cx="574.20" cy="310.51" rx="11.05" ry="10.53" fill="url(#gR)" opacity="0.35" filter="url(#mb)" style="mix-blend-mode:screen"/>
<ellipse cx="621.49" cy="304.34" rx="9.74" ry="10.00" fill="url(#gR)" filter="url(#mb)" style="mix-blend-mode:screen"/>
<ellipse cx="606.07" cy="311.54" rx="8.95" ry="8.42" fill="url(#gR)" opacity="0.80" filter="url(#mb)" style="mix-blend-mode:screen"/>
<ellipse cx="618.40" cy="322.85" rx="9.74" ry="10.00" fill="url(#gR)" filter="url(#mb)" style="mix-blend-mode:screen"/>
<ellipse cx="579.34" cy="345.46" rx="11.58" ry="11.05" fill="url(#gR)" opacity="0.85" filter="url(#mb)" style="mix-blend-mode:screen"/>
<ellipse cx="561.87" cy="273.09" rx="7.37" ry="6.84" fill="url(#gB)" opacity="0.78" filter="url(#mb)"/>
<ellipse cx="551.38" cy="263.84" rx="4.74" ry="3.16" fill="url(#gB)" opacity="0.74" filter="url(#mb)"/>
<ellipse cx="535.96" cy="264.87" rx="2.63" ry="3.68" fill="url(#gB)" opacity="0.64" filter="url(#mb)"/>
<ellipse cx="620.46" cy="271.45" rx="7.89" ry="7.37" fill="url(#gB)" opacity="0.83" filter="url(#mb)"/>
<ellipse cx="632.18" cy="282.75" rx="6.58" ry="6.58" fill="url(#gB)" opacity="0.74" filter="url(#mb)"/>
<ellipse cx="558.78" cy="296.12" rx="8.95" ry="5.26" fill="url(#gB)" opacity="0.78" transform="rotate(25 558.78 296.12)" filter="url(#mb)"/>
<ellipse cx="576.26" cy="297.15" rx="5.26" ry="7.37" fill="url(#gB)" opacity="0.78" transform="rotate(15 576.26 297.15)" filter="url(#mb)"/>
<ellipse cx="547.48" cy="306.40" rx="7.37" ry="7.89" fill="url(#gB)" opacity="0.74" filter="url(#mb)"/>
<ellipse cx="574.20" cy="310.51" rx="7.89" ry="7.37" fill="url(#gB)" opacity="0.83" filter="url(#mb)"/>
<ellipse cx="620.46" cy="307.43" rx="2.63" ry="2.63" fill="url(#gB)" opacity="0.55" filter="url(#mb)"/>
<ellipse cx="605.04" cy="311.54" rx="5.79" ry="5.79" fill="url(#gB)" opacity="0.74" filter="url(#mb)"/>
<ellipse cx="619.43" cy="321.82" rx="5.26" ry="5.26" fill="url(#gB)" opacity="0.46" filter="url(#mb)"/>
<ellipse cx="597.85" cy="330.04" rx="7.37" ry="7.37" fill="url(#gB)" opacity="0.78" filter="url(#mb)"/>
<ellipse cx="582.84" cy="344.43" rx="7.37" ry="7.89" fill="url(#gB)" opacity="0.87" filter="url(#mb)"/>
<ellipse cx="621.49" cy="341.35" rx="4.74" ry="4.74" fill="url(#gB)" opacity="0.74" filter="url(#mb)"/>
<ellipse cx="539.25" cy="353.68" rx="6.32" ry="6.32" fill="url(#gB)" opacity="0.78" filter="url(#mb)"/>
<ellipse cx="598.87" cy="352.66" rx="5.79" ry="5.26" fill="url(#gB)" opacity="0.64" filter="url(#mb)"/>
<ellipse cx="653.36" cy="354.71" rx="7.89" ry="5.79" fill="url(#gB)" opacity="0.55" filter="url(#mb)"/>
<ellipse cx="555.70" cy="374.24" rx="7.37" ry="6.84" fill="url(#gB)" opacity="0.83" filter="url(#mb)"/>
<ellipse cx="542.34" cy="384.52" rx="5.79" ry="5.26" fill="url(#gB)" opacity="0.78" filter="url(#mb)"/>
<ellipse cx="563.92" cy="385.55" rx="6.32" ry="5.26" fill="url(#gB)" opacity="0.55" filter="url(#mb)"/>
<ellipse cx="646.16" cy="373.22" rx="4.74" ry="4.21" fill="url(#gB)" opacity="0.69" filter="url(#mb)"/>
<ellipse cx="627.66" cy="384.52" rx="5.79" ry="5.79" fill="url(#gB)" opacity="0.78" filter="url(#mb)"/>
<ellipse cx="556.73" cy="272.48" rx="0.95" ry="0.95" fill="#f0b838" opacity="1.00"/>
<ellipse cx="558.78" cy="278.64" rx="0.95" ry="0.95" fill="#f0b838" opacity="1.00"/>
<ellipse cx="555.70" cy="275.56" rx="0.95" ry="0.95" fill="#f0b838" opacity="1.00"/>
<ellipse cx="609.15" cy="269.39" rx="0.95" ry="0.95" fill="#f0b838" opacity="1.00"/>
<ellipse cx="612.24" cy="267.34" rx="0.95" ry="0.95" fill="#f0b838" opacity="1.00"/>
<ellipse cx="568.03" cy="306.40" rx="0.95" ry="0.95" fill="#f0b838" opacity="1.00"/>
<ellipse cx="570.09" cy="314.62" rx="0.95" ry="0.95" fill="#f0b838" opacity="1.00"/>
<ellipse cx="579.34" cy="315.65" rx="0.95" ry="0.95" fill="#f0b838" opacity="1.00"/>
<ellipse cx="581.40" cy="307.43" rx="0.95" ry="0.95" fill="#f0b838" opacity="1.00"/>
<ellipse cx="576.26" cy="304.34" rx="0.95" ry="0.95" fill="#f0b838" opacity="1.00"/>
<ellipse cx="567.01" cy="311.54" rx="0.95" ry="0.95" fill="#f0b838" opacity="1.00"/>
<ellipse cx="574.20" cy="317.71" rx="0.95" ry="0.95" fill="#f0b838" opacity="1.00"/>
<ellipse cx="618.40" cy="301.26" rx="0.95" ry="0.95" fill="#f0b838" opacity="1.00"/>
<ellipse cx="623.54" cy="306.40" rx="0.95" ry="0.95" fill="#f0b838" opacity="1.00"/>
<ellipse cx="621.49" cy="299.20" rx="0.95" ry="0.95" fill="#f0b838" opacity="1.00"/>
<ellipse cx="615.32" cy="324.90" rx="0.95" ry="0.95" fill="#f0b838" opacity="1.00"/>
<ellipse cx="620.46" cy="327.99" rx="0.95" ry="0.95" fill="#f0b838" opacity="1.00"/>
<ellipse cx="616.35" cy="319.76" rx="0.95" ry="0.95" fill="#f0b838" opacity="1.00"/>
<ellipse cx="595.79" cy="324.90" rx="0.95" ry="0.95" fill="#f0b838" opacity="0.80"/>
<ellipse cx="567.01" cy="274.53" rx="1.54" ry="2.06" fill="#46f050" opacity="0.90"/>
<ellipse cx="562.89" cy="279.67" rx="0.95" ry="0.95" fill="#46f050" opacity="1.00"/>
<ellipse cx="626.63" cy="287.28" rx="2.31" ry="2.31" fill="#46f050" opacity="1.00"/>
<ellipse cx="612.24" cy="310.10" rx="1.80" ry="3.60" fill="#46f050" opacity="1.00"/>
<ellipse cx="601.96" cy="334.15" rx="0.95" ry="0.95" fill="#46f050" opacity="1.00"/>
<ellipse cx="569.06" cy="346.90" rx="1.28" ry="1.28" fill="#46f050" opacity="1.00"/>
<ellipse cx="573.17" cy="345.46" rx="0.95" ry="0.95" fill="#46f050" opacity="1.00"/>
<ellipse cx="618.82" cy="337.24" rx="0.95" ry="0.95" fill="#46f050" opacity="1.00"/>
<ellipse cx="538.22" cy="385.96" rx="1.54" ry="1.54" fill="#46f050" opacity="1.00"/>
</g>
<rect x="631.80" y="389.80" width="31.80" height="1.80" fill="#f4f4f4"/>
<text x="6.20" y="418.20" font-size="13.5" font-weight="bold" fill="#1c1c1c">E</text>
<line x1="73.30" y1="413.90" x2="73.30" y2="560.10" stroke="#2a2a2a" stroke-width="1.0"/>
<line x1="65.80" y1="414.40" x2="73.30" y2="414.40" stroke="#2a2a2a" stroke-width="1.0"/>
<text x="64.10" y="419.40" font-size="12.5" text-anchor="end" fill="#1c1c1c">80</text>
<line x1="65.80" y1="450.70" x2="73.30" y2="450.70" stroke="#2a2a2a" stroke-width="1.0"/>
<text x="64.10" y="455.70" font-size="12.5" text-anchor="end" fill="#1c1c1c">60</text>
<line x1="65.80" y1="487.00" x2="73.30" y2="487.00" stroke="#2a2a2a" stroke-width="1.0"/>
<text x="64.10" y="492.00" font-size="12.5" text-anchor="end" fill="#1c1c1c">40</text>
<line x1="65.80" y1="523.30" x2="73.30" y2="523.30" stroke="#2a2a2a" stroke-width="1.0"/>
<text x="64.10" y="528.30" font-size="12.5" text-anchor="end" fill="#1c1c1c">20</text>
<line x1="65.80" y1="559.60" x2="73.30" y2="559.60" stroke="#2a2a2a" stroke-width="1.0"/>
<text x="64.10" y="564.60" font-size="12.5" text-anchor="end" fill="#1c1c1c">0</text>
<line x1="72.80" y1="559.60" x2="222.00" y2="559.60" stroke="#2a2a2a" stroke-width="1.0"/>
<line x1="95.90" y1="559.60" x2="95.90" y2="566.60" stroke="#2a2a2a" stroke-width="1.0"/>
<line x1="130.40" y1="559.60" x2="130.40" y2="566.60" stroke="#2a2a2a" stroke-width="1.0"/>
<line x1="164.60" y1="559.60" x2="164.60" y2="566.60" stroke="#2a2a2a" stroke-width="1.0"/>
<line x1="198.80" y1="559.60" x2="198.80" y2="566.60" stroke="#2a2a2a" stroke-width="1.0"/>
<text transform="translate(28.40 486.60) rotate(-90)" font-size="12.0" text-anchor="middle" fill="#1c1c1c">% Difference in EV uptake</text>
<text transform="translate(42.00 487.00) rotate(-90)" font-size="12.4" text-anchor="middle" fill="#1c1c1c">(4T1-hEGFR/4T1)</text>
<text transform="translate(98.90 578.00) rotate(-45)" font-size="12.2" text-anchor="end" fill="#1c1c1c">EV</text>
<text transform="translate(133.40 578.00) rotate(-45)" font-size="12.2" text-anchor="end" fill="#1c1c1c">EV-SA</text>
<text transform="translate(167.60 578.00) rotate(-45)" font-size="12.2" text-anchor="end" fill="#1c1c1c">EV-Control VHH</text>
<text transform="translate(201.80 578.00) rotate(-45)" font-size="12.2" text-anchor="end" fill="#1c1c1c">EV-EGFR VHH</text>
<rect x="118.90" y="554.30" width="23.00" height="5.30" fill="#629b63" stroke="#151515" stroke-width="1.0"/>
<rect x="153.10" y="557.40" width="23.00" height="2.20" fill="#316296" stroke="#151515" stroke-width="1.0"/>
<rect x="187.30" y="462.70" width="23.00" height="96.90" fill="#8a1b1e" stroke="#151515" stroke-width="1.0"/>
<line x1="90.50" y1="557.30" x2="101.50" y2="557.30" stroke="#2a2a2a" stroke-width="1.0"/>
<rect x="93.42" y="554.72" width="4.97" height="4.97" fill="#111"/>
<line x1="130.40" y1="551.60" x2="130.40" y2="557.00" stroke="#161616" stroke-width="1.0"/>
<line x1="126.40" y1="551.60" x2="134.40" y2="551.60" stroke="#161616" stroke-width="1.0"/>
<line x1="126.40" y1="557.00" x2="134.40" y2="557.00" stroke="#161616" stroke-width="1.0"/>
<polygon points="122.30,549.83 119.33,555.17 125.27,555.17" fill="#111"/>
<polygon points="130.40,553.73 127.43,559.07 133.37,559.07" fill="#111"/>
<polygon points="137.40,553.73 134.43,559.07 140.37,559.07" fill="#111"/>
<line x1="164.60" y1="551.40" x2="164.60" y2="559.00" stroke="#161616" stroke-width="1.0"/>
<line x1="160.60" y1="551.40" x2="168.60" y2="551.40" stroke="#161616" stroke-width="1.0"/>
<line x1="160.60" y1="559.00" x2="168.60" y2="559.00" stroke="#161616" stroke-width="1.0"/>
<polygon points="158.60,554.67 155.63,549.33 161.57,549.33" fill="#111"/>
<polygon points="164.60,560.67 161.63,555.33 167.57,555.33" fill="#111"/>
<polygon points="169.90,555.27 166.93,549.93 172.87,549.93" fill="#111"/>
<line x1="198.80" y1="461.00" x2="198.80" y2="464.40" stroke="#161616" stroke-width="1.0"/>
<line x1="195.30" y1="461.00" x2="202.30" y2="461.00" stroke="#161616" stroke-width="1.0"/>
<line x1="195.30" y1="464.40" x2="202.30" y2="464.40" stroke="#161616" stroke-width="1.0"/>
<polygon points="191.00,458.73 193.88,461.60 191.00,464.48 188.12,461.60" fill="#111"/>
<polygon points="198.80,458.32 201.68,461.20 198.80,464.07 195.93,461.20" fill="#111"/>
<polygon points="205.50,461.32 208.38,464.20 205.50,467.07 202.62,464.20" fill="#111"/>
<polyline points="164.60,521.90 164.60,432.70 198.80,432.70" fill="none" stroke="#1e1e1e" stroke-width="1.0"/>
<text x="182.60" y="430.30" font-size="14.5" text-anchor="middle" font-weight="bold" fill="#1c1c1c" letter-spacing="2.2">***</text>
<text x="251.00" y="417.20" font-size="13.5" font-weight="bold" fill="#1c1c1c">F</text>
<line x1="313.40" y1="429.30" x2="313.40" y2="556.30" stroke="#2a2a2a" stroke-width="1.0"/>
<line x1="306.40" y1="429.80" x2="313.40" y2="429.80" stroke="#2a2a2a" stroke-width="1.0"/>
<text x="304.70" y="434.80" font-size="12.5" text-anchor="end" fill="#1c1c1c">3000</text>
<line x1="306.40" y1="472.00" x2="313.40" y2="472.00" stroke="#2a2a2a" stroke-width="1.0"/>
<text x="304.70" y="477.00" font-size="12.5" text-anchor="end" fill="#1c1c1c">2000</text>
<line x1="306.40" y1="513.90" x2="313.40" y2="513.90" stroke="#2a2a2a" stroke-width="1.0"/>
<text x="304.70" y="518.90" font-size="12.5" text-anchor="end" fill="#1c1c1c">1000</text>
<line x1="306.40" y1="555.80" x2="313.40" y2="555.80" stroke="#2a2a2a" stroke-width="1.0"/>
<text x="304.70" y="560.80" font-size="12.5" text-anchor="end" fill="#1c1c1c">0</text>
<line x1="312.90" y1="555.80" x2="663.60" y2="555.80" stroke="#2a2a2a" stroke-width="1.0"/>
<line x1="334.00" y1="555.80" x2="334.00" y2="562.80" stroke="#2a2a2a" stroke-width="1.0"/>
<line x1="365.80" y1="555.80" x2="365.80" y2="562.80" stroke="#2a2a2a" stroke-width="1.0"/>
<line x1="397.80" y1="555.80" x2="397.80" y2="562.80" stroke="#2a2a2a" stroke-width="1.0"/>
<line x1="429.60" y1="555.80" x2="429.60" y2="562.80" stroke="#2a2a2a" stroke-width="1.0"/>
<line x1="461.60" y1="555.80" x2="461.60" y2="562.80" stroke="#2a2a2a" stroke-width="1.0"/>
<line x1="514.30" y1="555.80" x2="514.30" y2="562.80" stroke="#2a2a2a" stroke-width="1.0"/>
<line x1="546.20" y1="555.80" x2="546.20" y2="562.80" stroke="#2a2a2a" stroke-width="1.0"/>
<line x1="578.00" y1="555.80" x2="578.00" y2="562.80" stroke="#2a2a2a" stroke-width="1.0"/>
<line x1="609.90" y1="555.80" x2="609.90" y2="562.80" stroke="#2a2a2a" stroke-width="1.0"/>
<line x1="641.70" y1="555.80" x2="641.70" y2="562.80" stroke="#2a2a2a" stroke-width="1.0"/>
<text transform="translate(270.30 489.00) rotate(-90)" font-size="11.9" text-anchor="middle" fill="#1c1c1c">Mean Fluorescent Intensity</text>
<text transform="translate(337.00 575.50) rotate(-45)" font-size="12.2" text-anchor="end" fill="#1c1c1c">Untreated</text>
<text transform="translate(368.80 575.50) rotate(-45)" font-size="12.2" text-anchor="end" fill="#1c1c1c">EV</text>
<text transform="translate(400.80 575.50) rotate(-45)" font-size="12.2" text-anchor="end" fill="#1c1c1c">EV-SA</text>
<text transform="translate(432.60 575.50) rotate(-45)" font-size="12.2" text-anchor="end" fill="#1c1c1c">EV-Isotype control</text>
<text transform="translate(464.60 575.50) rotate(-45)" font-size="12.2" text-anchor="end" fill="#1c1c1c">EV-EpCAM mAb</text>
<text transform="translate(517.30 575.50) rotate(-45)" font-size="12.2" text-anchor="end" fill="#1c1c1c">Untreated</text>
<text transform="translate(549.20 575.50) rotate(-45)" font-size="12.2" text-anchor="end" fill="#1c1c1c">EV</text>
<text transform="translate(581.00 575.50) rotate(-45)" font-size="12.2" text-anchor="end" fill="#1c1c1c">EV-SA</text>
<text transform="translate(612.90 575.50) rotate(-45)" font-size="12.2" text-anchor="end" fill="#1c1c1c">EV-Isotype control</text>
<text transform="translate(644.70 575.50) rotate(-45)" font-size="12.2" text-anchor="end" fill="#1c1c1c">EV-EpCAM mAb</text>
<text x="396.50" y="416.00" font-size="11.9" text-anchor="middle" fill="#1c1c1c">H358 cells</text>
<text x="578.20" y="416.00" font-size="12.0" text-anchor="middle" fill="#1c1c1c">MOLM13 cells</text>
<line x1="318.80" y1="420.60" x2="477.90" y2="420.60" stroke="#555" stroke-width="1.3"/>
<line x1="498.40" y1="420.60" x2="657.60" y2="420.60" stroke="#555" stroke-width="1.3"/>
<rect x="355.50" y="544.60" width="20.60" height="11.20" fill="#d8d8d8" stroke="#151515" stroke-width="1.0"/>
<rect x="387.50" y="537.80" width="20.60" height="18.00" fill="#629b63" stroke="#151515" stroke-width="1.0"/>
<rect x="419.30" y="543.00" width="20.60" height="12.80" fill="#316296" stroke="#151515" stroke-width="1.0"/>
<rect x="451.30" y="468.60" width="20.60" height="87.20" fill="#8a1b1e" stroke="#151515" stroke-width="1.0"/>
<rect x="535.90" y="553.60" width="20.60" height="2.20" fill="#d8d8d8" stroke="#151515" stroke-width="1.0"/>
<rect x="567.70" y="550.60" width="20.60" height="5.20" fill="#629b63" stroke="#151515" stroke-width="1.0"/>
<rect x="599.60" y="553.60" width="20.60" height="2.20" fill="#316296" stroke="#151515" stroke-width="1.0"/>
<rect x="631.40" y="552.00" width="20.60" height="3.80" fill="#8a1b1e" stroke="#151515" stroke-width="1.0"/>
<circle cx="327.00" cy="554.40" r="3.00" fill="#111"/>
<circle cx="334.00" cy="554.40" r="3.00" fill="#111"/>
<circle cx="341.00" cy="554.40" r="3.00" fill="#111"/>
<rect x="357.21" y="541.61" width="4.78" height="4.78" fill="#111"/>
<rect x="363.41" y="542.21" width="4.78" height="4.78" fill="#111"/>
<rect x="369.61" y="542.21" width="4.78" height="4.78" fill="#111"/>
<line x1="397.80" y1="528.80" x2="397.80" y2="545.60" stroke="#161616" stroke-width="1.0"/>
<line x1="393.30" y1="528.80" x2="402.30" y2="528.80" stroke="#161616" stroke-width="1.0"/>
<line x1="393.30" y1="545.60" x2="402.30" y2="545.60" stroke="#161616" stroke-width="1.0"/>
<polygon points="397.80,526.12 395.05,531.08 400.55,531.08" fill="#111"/>
<polygon points="393.20,540.33 390.23,545.67 396.17,545.67" fill="#111"/>
<polygon points="397.80,996.33 394.83,1001.67 400.77,1001.67" fill="#111"/>
<polygon points="402.40,540.33 399.43,545.67 405.37,545.67" fill="#111"/>
<polygon points="423.40,544.77 420.54,539.63 426.26,539.63" fill="#111"/>
<polygon points="429.60,545.57 426.74,540.43 432.46,540.43" fill="#111"/>
<polygon points="435.80,545.17 432.94,540.03 438.66,540.03" fill="#111"/>
<line x1="461.60" y1="447.40" x2="461.60" y2="488.00" stroke="#161616" stroke-width="1.0"/>
<line x1="457.10" y1="447.40" x2="466.10" y2="447.40" stroke="#161616" stroke-width="1.0"/>
<line x1="457.10" y1="488.00" x2="466.10" y2="488.00" stroke="#161616" stroke-width="1.0"/>
<polygon points="461.60,442.73 464.48,445.60 461.60,448.48 458.73,445.60" fill="#111"/>
<polygon points="461.60,470.73 464.48,473.60 461.60,476.48 458.73,473.60" fill="#111"/>
<polygon points="461.60,481.32 464.48,484.20 461.60,487.07 458.73,484.20" fill="#111"/>
<circle cx="507.30" cy="554.60" r="2.80" fill="#111"/>
<circle cx="514.30" cy="554.60" r="2.80" fill="#111"/>
<circle cx="521.30" cy="554.60" r="2.80" fill="#111"/>
<rect x="537.61" y="551.01" width="4.78" height="4.78" fill="#111"/>
<rect x="543.81" y="551.01" width="4.78" height="4.78" fill="#111"/>
<rect x="550.01" y="551.01" width="4.78" height="4.78" fill="#111"/>
<polygon points="571.80,547.83 568.94,552.97 574.66,552.97" fill="#111"/>
<polygon points="578.00,547.43 575.14,552.57 580.86,552.57" fill="#111"/>
<polygon points="584.20,548.03 581.34,553.17 587.06,553.17" fill="#111"/>
<polygon points="603.70,555.97 600.84,550.83 606.56,550.83" fill="#111"/>
<polygon points="609.90,555.97 607.04,550.83 612.76,550.83" fill="#111"/>
<polygon points="616.10,555.97 613.24,550.83 618.96,550.83" fill="#111"/>
<polygon points="635.50,549.01 638.49,552.00 635.50,554.99 632.51,552.00" fill="#111"/>
<polygon points="641.70,548.61 644.69,551.60 641.70,554.59 638.71,551.60" fill="#111"/>
<polygon points="647.90,549.21 650.89,552.20 647.90,555.19 644.91,552.20" fill="#111"/>
<polyline points="429.60,526.00 429.60,438.20 461.60,438.20" fill="none" stroke="#1e1e1e" stroke-width="1.0"/>
<text x="447.10" y="436.10" font-size="14.5" text-anchor="middle" font-weight="bold" fill="#1c1c1c" letter-spacing="2.2">***</text>
<text x="5.30" y="666.20" font-size="14" font-weight="bold" fill="#1c1c1c">G</text>
<text x="80.40" y="665.40" font-size="12.2" text-anchor="middle" fill="#1c1c1c">Hoechst</text>
<text x="156.20" y="665.40" font-size="12.2" text-anchor="middle" fill="#1c1c1c">CellMask</text>
<text x="235.40" y="665.40" font-size="12.2" text-anchor="middle" fill="#1c1c1c">CFSE-EV</text>
<text x="315.80" y="665.40" font-size="12.2" text-anchor="middle" fill="#1c1c1c">Merged</text>
<text transform="translate(30.20 709.20) rotate(-90)" font-size="12.3" text-anchor="middle" fill="#1c1c1c">Untreated</text>
<text transform="translate(17.00 790.70) rotate(-90)" font-size="12.3" text-anchor="middle" fill="#1c1c1c">Control-</text>
<text transform="translate(30.20 790.70) rotate(-90)" font-size="12.3" text-anchor="middle" fill="#1c1c1c">mAb-EVs</text>
<text transform="translate(17.00 871.00) rotate(-90)" font-size="12.3" text-anchor="middle" fill="#1c1c1c">EpCAM-</text>
<text transform="translate(30.20 871.00) rotate(-90)" font-size="12.3" text-anchor="middle" fill="#1c1c1c">mAb-EVs</text>
<rect x="37.00" y="670.10" width="78.60" height="78.50" fill="#020203"/>
<g clip-path="url(#mc6)" style="isolation:isolate">
<ellipse cx="43.73" cy="689.96" rx="5.84" ry="5.84" fill="url(#hB)" opacity="0.95" filter="url(#mb2)" style="mix-blend-mode:screen"/>
<ellipse cx="52.47" cy="685.47" rx="3.89" ry="3.89" fill="url(#hB)" opacity="0.76" filter="url(#mb2)" style="mix-blend-mode:screen"/>
<ellipse cx="41.23" cy="703.69" rx="5.52" ry="5.52" fill="url(#hB)" opacity="0.95" filter="url(#mb2)" style="mix-blend-mode:screen"/>
<ellipse cx="82.42" cy="689.96" rx="4.87" ry="4.87" fill="url(#hB)" opacity="0.57" filter="url(#mb2)" style="mix-blend-mode:screen"/>
<ellipse cx="99.90" cy="681.97" rx="5.19" ry="5.19" fill="url(#hB)" opacity="0.76" filter="url(#mb2)" style="mix-blend-mode:screen"/>
<ellipse cx="104.89" cy="673.74" rx="4.54" ry="4.54" fill="url(#hB)" opacity="0.57" filter="url(#mb2)" style="mix-blend-mode:screen"/>
<ellipse cx="109.88" cy="687.97" rx="4.22" ry="4.22" fill="url(#hB)" opacity="0.57" filter="url(#mb2)" style="mix-blend-mode:screen"/>
<ellipse cx="88.66" cy="671.99" rx="3.25" ry="3.25" fill="url(#hB)" opacity="0.47" filter="url(#mb2)" style="mix-blend-mode:screen"/>
<ellipse cx="41.23" cy="724.91" rx="3.25" ry="3.25" fill="url(#hB)" opacity="0.76" filter="url(#mb2)" style="mix-blend-mode:screen"/>
<ellipse cx="58.71" cy="728.65" rx="5.19" ry="5.19" fill="url(#hB)" opacity="0.85" filter="url(#mb2)" style="mix-blend-mode:screen"/>
<ellipse cx="70.44" cy="724.91" rx="4.54" ry="4.54" fill="url(#hB)" opacity="0.85" filter="url(#mb2)" style="mix-blend-mode:screen"/>
<ellipse cx="81.17" cy="722.91" rx="5.52" ry="5.52" fill="url(#hB)" opacity="0.95" filter="url(#mb2)" style="mix-blend-mode:screen"/>
<ellipse cx="83.67" cy="733.65" rx="5.84" ry="5.84" fill="url(#hB)" opacity="0.95" filter="url(#mb2)" style="mix-blend-mode:screen"/>
<ellipse cx="57.46" cy="737.39" rx="4.54" ry="4.54" fill="url(#hB)" opacity="0.85" filter="url(#mb2)" style="mix-blend-mode:screen"/>
<ellipse cx="95.40" cy="724.91" rx="3.89" ry="3.89" fill="url(#hB)" opacity="0.76" filter="url(#mb2)" style="mix-blend-mode:screen"/>
<ellipse cx="103.64" cy="723.66" rx="4.87" ry="4.87" fill="url(#hB)" opacity="0.95" filter="url(#mb2)" style="mix-blend-mode:screen"/>
<ellipse cx="89.91" cy="729.40" rx="3.25" ry="3.25" fill="url(#hB)" opacity="0.57" filter="url(#mb2)" style="mix-blend-mode:screen"/>
<ellipse cx="63.70" cy="743.63" rx="3.89" ry="3.89" fill="url(#hB)" opacity="0.76" filter="url(#mb2)" style="mix-blend-mode:screen"/>
<ellipse cx="44.98" cy="746.88" rx="3.89" ry="3.89" fill="url(#hB)" opacity="0.66" filter="url(#mb2)" style="mix-blend-mode:screen"/>
</g>
<rect x="118.40" y="670.10" width="78.60" height="78.50" fill="#020203"/>
<g clip-path="url(#mc7)" style="isolation:isolate">
<ellipse cx="125.13" cy="689.96" rx="9.04" ry="9.04" fill="url(#hR0)" opacity="0.90" filter="url(#mb2)" style="mix-blend-mode:screen"/>
<ellipse cx="133.87" cy="685.47" rx="6.53" ry="6.53" fill="url(#hR0)" opacity="0.83" filter="url(#mb2)" style="mix-blend-mode:screen"/>
<ellipse cx="122.63" cy="703.69" rx="8.54" ry="8.54" fill="url(#hR0)" opacity="0.90" filter="url(#mb2)" style="mix-blend-mode:screen"/>
<ellipse cx="163.82" cy="689.96" rx="7.54" ry="7.54" fill="url(#hR0)" opacity="0.76" filter="url(#mb2)" style="mix-blend-mode:screen"/>
<ellipse cx="181.30" cy="681.97" rx="8.04" ry="8.04" fill="url(#hR0)" opacity="0.83" filter="url(#mb2)" style="mix-blend-mode:screen"/>
<ellipse cx="186.29" cy="673.74" rx="7.03" ry="7.03" fill="url(#hR0)" opacity="0.76" filter="url(#mb2)" style="mix-blend-mode:screen"/>
<ellipse cx="191.28" cy="687.97" rx="6.53" ry="6.53" fill="url(#hR0)" opacity="0.76" filter="url(#mb2)" style="mix-blend-mode:screen"/>
<ellipse cx="170.06" cy="671.99" rx="6.53" ry="6.53" fill="url(#hR0)" opacity="0.76" filter="url(#mb2)" style="mix-blend-mode:screen"/>
<ellipse cx="122.63" cy="724.91" rx="6.53" ry="6.53" fill="url(#hR0)" opacity="0.83" filter="url(#mb2)" style="mix-blend-mode:screen"/>
<ellipse cx="140.11" cy="728.65" rx="8.04" ry="8.04" fill="url(#hR0)" opacity="0.86" filter="url(#mb2)" style="mix-blend-mode:screen"/>
<ellipse cx="151.84" cy="724.91" rx="7.03" ry="7.03" fill="url(#hR0)" opacity="0.86" filter="url(#mb2)" style="mix-blend-mode:screen"/>
<ellipse cx="162.57" cy="722.91" rx="8.54" ry="8.54" fill="url(#hR0)" opacity="0.90" filter="url(#mb2)" style="mix-blend-mode:screen"/>
<ellipse cx="165.07" cy="733.65" rx="9.04" ry="9.04" fill="url(#hR0)" opacity="0.90" filter="url(#mb2)" style="mix-blend-mode:screen"/>
<ellipse cx="138.86" cy="737.39" rx="7.03" ry="7.03" fill="url(#hR0)" opacity="0.86" filter="url(#mb2)" style="mix-blend-mode:screen"/>
<ellipse cx="176.80" cy="724.91" rx="6.53" ry="6.53" fill="url(#hR0)" opacity="0.83" filter="url(#mb2)" style="mix-blend-mode:screen"/>
<ellipse cx="185.04" cy="723.66" rx="7.54" ry="7.54" fill="url(#hR0)" opacity="0.90" filter="url(#mb2)" style="mix-blend-mode:screen"/>
<ellipse cx="171.31" cy="729.40" rx="6.53" ry="6.53" fill="url(#hR0)" opacity="0.76" filter="url(#mb2)" style="mix-blend-mode:screen"/>
<ellipse cx="145.10" cy="743.63" rx="6.53" ry="6.53" fill="url(#hR0)" opacity="0.83" filter="url(#mb2)" style="mix-blend-mode:screen"/>
<ellipse cx="126.38" cy="746.88" rx="6.53" ry="6.53" fill="url(#hR0)" opacity="0.80" filter="url(#mb2)" style="mix-blend-mode:screen"/>
<ellipse cx="177.05" cy="672.49" rx="6.89" ry="6.89" fill="url(#hR0)" opacity="0.70" filter="url(#mb2)" style="mix-blend-mode:screen"/>
<ellipse cx="125.13" cy="744.88" rx="5.74" ry="5.74" fill="url(#hR0)" opacity="0.80" filter="url(#mb2)" style="mix-blend-mode:screen"/>
<ellipse cx="123.38" cy="692.46" rx="8.61" ry="8.61" fill="url(#hR0)" opacity="0.50" filter="url(#mb2)" style="mix-blend-mode:screen"/>
<ellipse cx="158.83" cy="737.39" rx="7.46" ry="7.46" fill="url(#hR0)" opacity="0.60" filter="url(#mb2)" style="mix-blend-mode:screen"/>
<ellipse cx="148.84" cy="732.40" rx="6.32" ry="6.32" fill="url(#hR0)" opacity="0.60" filter="url(#mb2)" style="mix-blend-mode:screen"/>
</g>
<rect x="199.40" y="670.10" width="78.60" height="78.50" fill="#020203"/>
<g clip-path="url(#mc8)" style="isolation:isolate">
</g>
<rect x="280.20" y="670.10" width="78.60" height="78.50" fill="#020203"/>
<g clip-path="url(#mc9)" style="isolation:isolate">
<ellipse cx="286.93" cy="689.96" rx="9.04" ry="9.04" fill="url(#hR0)" opacity="0.90" filter="url(#mb2)" style="mix-blend-mode:screen"/>
<ellipse cx="295.67" cy="685.47" rx="6.53" ry="6.53" fill="url(#hR0)" opacity="0.83" filter="url(#mb2)" style="mix-blend-mode:screen"/>
<ellipse cx="284.43" cy="703.69" rx="8.54" ry="8.54" fill="url(#hR0)" opacity="0.90" filter="url(#mb2)" style="mix-blend-mode:screen"/>
<ellipse cx="325.62" cy="689.96" rx="7.54" ry="7.54" fill="url(#hR0)" opacity="0.76" filter="url(#mb2)" style="mix-blend-mode:screen"/>
<ellipse cx="343.10" cy="681.97" rx="8.04" ry="8.04" fill="url(#hR0)" opacity="0.83" filter="url(#mb2)" style="mix-blend-mode:screen"/>
<ellipse cx="348.09" cy="673.74" rx="7.03" ry="7.03" fill="url(#hR0)" opacity="0.76" filter="url(#mb2)" style="mix-blend-mode:screen"/>
<ellipse cx="353.08" cy="687.97" rx="6.53" ry="6.53" fill="url(#hR0)" opacity="0.76" filter="url(#mb2)" style="mix-blend-mode:screen"/>
<ellipse cx="331.86" cy="671.99" rx="6.53" ry="6.53" fill="url(#hR0)" opacity="0.76" filter="url(#mb2)" style="mix-blend-mode:screen"/>
<ellipse cx="284.43" cy="724.91" rx="6.53" ry="6.53" fill="url(#hR0)" opacity="0.83" filter="url(#mb2)" style="mix-blend-mode:screen"/>
<ellipse cx="301.91" cy="728.65" rx="8.04" ry="8.04" fill="url(#hR0)" opacity="0.86" filter="url(#mb2)" style="mix-blend-mode:screen"/>
<ellipse cx="313.64" cy="724.91" rx="7.03" ry="7.03" fill="url(#hR0)" opacity="0.86" filter="url(#mb2)" style="mix-blend-mode:screen"/>
<ellipse cx="324.37" cy="722.91" rx="8.54" ry="8.54" fill="url(#hR0)" opacity="0.90" filter="url(#mb2)" style="mix-blend-mode:screen"/>
<ellipse cx="326.87" cy="733.65" rx="9.04" ry="9.04" fill="url(#hR0)" opacity="0.90" filter="url(#mb2)" style="mix-blend-mode:screen"/>
<ellipse cx="300.66" cy="737.39" rx="7.03" ry="7.03" fill="url(#hR0)" opacity="0.86" filter="url(#mb2)" style="mix-blend-mode:screen"/>
<ellipse cx="338.60" cy="724.91" rx="6.53" ry="6.53" fill="url(#hR0)" opacity="0.83" filter="url(#mb2)" style="mix-blend-mode:screen"/>
<ellipse cx="346.84" cy="723.66" rx="7.54" ry="7.54" fill="url(#hR0)" opacity="0.90" filter="url(#mb2)" style="mix-blend-mode:screen"/>
<ellipse cx="333.11" cy="729.40" rx="6.53" ry="6.53" fill="url(#hR0)" opacity="0.76" filter="url(#mb2)" style="mix-blend-mode:screen"/>
<ellipse cx="306.90" cy="743.63" rx="6.53" ry="6.53" fill="url(#hR0)" opacity="0.83" filter="url(#mb2)" style="mix-blend-mode:screen"/>
<ellipse cx="288.18" cy="746.88" rx="6.53" ry="6.53" fill="url(#hR0)" opacity="0.80" filter="url(#mb2)" style="mix-blend-mode:screen"/>
<ellipse cx="338.85" cy="672.49" rx="6.89" ry="6.89" fill="url(#hR0)" opacity="0.70" filter="url(#mb2)" style="mix-blend-mode:screen"/>
<ellipse cx="286.93" cy="744.88" rx="5.74" ry="5.74" fill="url(#hR0)" opacity="0.80" filter="url(#mb2)" style="mix-blend-mode:screen"/>
<ellipse cx="285.18" cy="692.46" rx="8.61" ry="8.61" fill="url(#hR0)" opacity="0.50" filter="url(#mb2)" style="mix-blend-mode:screen"/>
<ellipse cx="320.63" cy="737.39" rx="7.46" ry="7.46" fill="url(#hR0)" opacity="0.60" filter="url(#mb2)" style="mix-blend-mode:screen"/>
<ellipse cx="310.64" cy="732.40" rx="6.32" ry="6.32" fill="url(#hR0)" opacity="0.60" filter="url(#mb2)" style="mix-blend-mode:screen"/>
<circle cx="286.93" cy="689.96" r="5.84" fill="url(#hBm)" opacity="0.95" filter="url(#mb2)"/>
<circle cx="295.67" cy="685.47" r="3.89" fill="url(#hBm)" opacity="0.76" filter="url(#mb2)"/>
<circle cx="284.43" cy="703.69" r="5.52" fill="url(#hBm)" opacity="0.95" filter="url(#mb2)"/>
<circle cx="325.62" cy="689.96" r="4.87" fill="url(#hBm)" opacity="0.57" filter="url(#mb2)"/>
<circle cx="343.10" cy="681.97" r="5.19" fill="url(#hBm)" opacity="0.76" filter="url(#mb2)"/>
<circle cx="348.09" cy="673.74" r="4.54" fill="url(#hBm)" opacity="0.57" filter="url(#mb2)"/>
<circle cx="353.08" cy="687.97" r="4.22" fill="url(#hBm)" opacity="0.57" filter="url(#mb2)"/>
<circle cx="331.86" cy="671.99" r="3.25" fill="url(#hBm)" opacity="0.47" filter="url(#mb2)"/>
<circle cx="284.43" cy="724.91" r="3.25" fill="url(#hBm)" opacity="0.76" filter="url(#mb2)"/>
<circle cx="301.91" cy="728.65" r="5.19" fill="url(#hBm)" opacity="0.85" filter="url(#mb2)"/>
<circle cx="313.64" cy="724.91" r="4.54" fill="url(#hBm)" opacity="0.85" filter="url(#mb2)"/>
<circle cx="324.37" cy="722.91" r="5.52" fill="url(#hBm)" opacity="0.95" filter="url(#mb2)"/>
<circle cx="326.87" cy="733.65" r="5.84" fill="url(#hBm)" opacity="0.95" filter="url(#mb2)"/>
<circle cx="300.66" cy="737.39" r="4.54" fill="url(#hBm)" opacity="0.85" filter="url(#mb2)"/>
<circle cx="338.60" cy="724.91" r="3.89" fill="url(#hBm)" opacity="0.76" filter="url(#mb2)"/>
<circle cx="346.84" cy="723.66" r="4.87" fill="url(#hBm)" opacity="0.95" filter="url(#mb2)"/>
<circle cx="333.11" cy="729.40" r="3.25" fill="url(#hBm)" opacity="0.57" filter="url(#mb2)"/>
<circle cx="306.90" cy="743.63" r="3.89" fill="url(#hBm)" opacity="0.76" filter="url(#mb2)"/>
<circle cx="288.18" cy="746.88" r="3.89" fill="url(#hBm)" opacity="0.66" filter="url(#mb2)"/>
</g>
<rect x="37.00" y="750.80" width="78.60" height="78.80" fill="#020203"/>
<g clip-path="url(#mc10)" style="isolation:isolate">
<ellipse cx="49.47" cy="755.48" rx="4.54" ry="4.54" fill="url(#hB)" opacity="0.95" filter="url(#mb2)" style="mix-blend-mode:screen"/>
<ellipse cx="41.23" cy="754.49" rx="3.25" ry="3.25" fill="url(#hB)" opacity="0.47" filter="url(#mb2)" style="mix-blend-mode:screen"/>
<ellipse cx="62.45" cy="753.74" rx="3.25" ry="3.25" fill="url(#hB)" opacity="0.47" filter="url(#mb2)" style="mix-blend-mode:screen"/>
<ellipse cx="95.40" cy="764.47" rx="3.89" ry="3.89" fill="url(#hB)" opacity="0.57" filter="url(#mb2)" style="mix-blend-mode:screen"/>
<ellipse cx="83.67" cy="770.71" rx="4.87" ry="4.87" fill="url(#hB)" opacity="0.95" filter="url(#mb2)" style="mix-blend-mode:screen"/>
<ellipse cx="54.21" cy="779.45" rx="5.52" ry="5.52" fill="url(#hB)" opacity="0.95" filter="url(#mb2)" style="mix-blend-mode:screen"/>
<ellipse cx="65.45" cy="785.69" rx="3.25" ry="3.25" fill="url(#hB)" opacity="0.47" filter="url(#mb2)" style="mix-blend-mode:screen"/>
<ellipse cx="84.92" cy="783.69" rx="5.19" ry="5.19" fill="url(#hB)" opacity="0.95" filter="url(#mb2)" style="mix-blend-mode:screen"/>
<ellipse cx="92.91" cy="781.94" rx="3.25" ry="3.25" fill="url(#hB)" opacity="0.66" filter="url(#mb2)" style="mix-blend-mode:screen"/>
<ellipse cx="101.64" cy="786.19" rx="5.19" ry="5.19" fill="url(#hB)" opacity="0.95" filter="url(#mb2)" style="mix-blend-mode:screen"/>
<ellipse cx="97.40" cy="777.45" rx="3.25" ry="3.25" fill="url(#hB)" opacity="0.47" filter="url(#mb2)" style="mix-blend-mode:screen"/>
<ellipse cx="83.17" cy="794.93" rx="5.19" ry="5.19" fill="url(#hB)" opacity="0.95" filter="url(#mb2)" style="mix-blend-mode:screen"/>
<ellipse cx="74.93" cy="798.67" rx="3.25" ry="3.25" fill="url(#hB)" opacity="0.43" filter="url(#mb2)" style="mix-blend-mode:screen"/>
<ellipse cx="58.71" cy="792.43" rx="3.25" ry="3.25" fill="url(#hB)" opacity="0.28" filter="url(#mb2)" style="mix-blend-mode:screen"/>
<ellipse cx="39.49" cy="806.16" rx="4.54" ry="4.54" fill="url(#hB)" opacity="0.85" filter="url(#mb2)" style="mix-blend-mode:screen"/>
<ellipse cx="93.65" cy="807.91" rx="3.89" ry="3.89" fill="url(#hB)" opacity="0.76" filter="url(#mb2)" style="mix-blend-mode:screen"/>
<ellipse cx="65.45" cy="813.65" rx="5.52" ry="5.52" fill="url(#hB)" opacity="0.95" filter="url(#mb2)" style="mix-blend-mode:screen"/>
<ellipse cx="54.96" cy="823.63" rx="3.25" ry="3.25" fill="url(#hB)" opacity="0.47" filter="url(#mb2)" style="mix-blend-mode:screen"/>
<ellipse cx="77.43" cy="828.62" rx="2.60" ry="2.60" fill="url(#hB)" opacity="0.38" filter="url(#mb2)" style="mix-blend-mode:screen"/>
</g>
<rect x="118.40" y="750.80" width="78.60" height="78.80" fill="#020203"/>
<g clip-path="url(#mc11)" style="isolation:isolate">
<ellipse cx="130.87" cy="755.48" rx="6.24" ry="6.24" fill="url(#hR1)" filter="url(#mb2)" style="mix-blend-mode:screen"/>
<ellipse cx="122.63" cy="754.49" rx="6.24" ry="6.24" fill="url(#hR1)" opacity="0.90" filter="url(#mb2)" style="mix-blend-mode:screen"/>
<ellipse cx="143.85" cy="753.74" rx="6.24" ry="6.24" fill="url(#hR1)" opacity="0.90" filter="url(#mb2)" style="mix-blend-mode:screen"/>
<ellipse cx="176.80" cy="764.47" rx="6.24" ry="6.24" fill="url(#hR1)" opacity="0.90" filter="url(#mb2)" style="mix-blend-mode:screen"/>
<ellipse cx="165.07" cy="770.71" rx="6.46" ry="6.46" fill="url(#hR1)" filter="url(#mb2)" style="mix-blend-mode:screen"/>
<ellipse cx="135.61" cy="779.45" rx="7.32" ry="7.32" fill="url(#hR1)" filter="url(#mb2)" style="mix-blend-mode:screen"/>
<ellipse cx="146.85" cy="785.69" rx="6.24" ry="6.24" fill="url(#hR1)" opacity="0.90" filter="url(#mb2)" style="mix-blend-mode:screen"/>
<ellipse cx="166.32" cy="783.69" rx="6.89" ry="6.89" fill="url(#hR1)" filter="url(#mb2)" style="mix-blend-mode:screen"/>
<ellipse cx="174.31" cy="781.94" rx="6.24" ry="6.24" fill="url(#hR1)" opacity="0.90" filter="url(#mb2)" style="mix-blend-mode:screen"/>
<ellipse cx="183.04" cy="786.19" rx="6.89" ry="6.89" fill="url(#hR1)" filter="url(#mb2)" style="mix-blend-mode:screen"/>
<ellipse cx="178.80" cy="777.45" rx="6.24" ry="6.24" fill="url(#hR1)" opacity="0.90" filter="url(#mb2)" style="mix-blend-mode:screen"/>
<ellipse cx="164.57" cy="794.93" rx="6.89" ry="6.89" fill="url(#hR1)" filter="url(#mb2)" style="mix-blend-mode:screen"/>
<ellipse cx="156.33" cy="798.67" rx="6.24" ry="6.24" fill="url(#hR1)" opacity="0.90" filter="url(#mb2)" style="mix-blend-mode:screen"/>
<ellipse cx="140.11" cy="792.43" rx="6.24" ry="6.24" fill="url(#hR1)" opacity="0.90" filter="url(#mb2)" style="mix-blend-mode:screen"/>
<ellipse cx="120.89" cy="806.16" rx="6.24" ry="6.24" fill="url(#hR1)" opacity="0.96" filter="url(#mb2)" style="mix-blend-mode:screen"/>
<ellipse cx="175.05" cy="807.91" rx="6.24" ry="6.24" fill="url(#hR1)" opacity="0.92" filter="url(#mb2)" style="mix-blend-mode:screen"/>
<ellipse cx="146.85" cy="813.65" rx="7.32" ry="7.32" fill="url(#hR1)" filter="url(#mb2)" style="mix-blend-mode:screen"/>
<ellipse cx="136.36" cy="823.63" rx="6.24" ry="6.24" fill="url(#hR1)" opacity="0.90" filter="url(#mb2)" style="mix-blend-mode:screen"/>
<ellipse cx="158.83" cy="828.62" rx="6.24" ry="6.24" fill="url(#hR1)" opacity="0.90" filter="url(#mb2)" style="mix-blend-mode:screen"/>
<ellipse cx="124.38" cy="762.97" rx="1.72" ry="1.72" fill="url(#hR1)" filter="url(#mb2)" style="mix-blend-mode:screen"/>
<ellipse cx="167.57" cy="753.74" rx="3.44" ry="3.44" fill="url(#hR1)" opacity="0.80" filter="url(#mb2)" style="mix-blend-mode:screen"/>
<ellipse cx="153.84" cy="828.62" rx="4.02" ry="4.02" fill="url(#hR1)" opacity="0.60" filter="url(#mb2)" style="mix-blend-mode:screen"/>
</g>
<rect x="199.40" y="750.80" width="78.60" height="78.80" fill="#020203"/>
<g clip-path="url(#mc12)" style="isolation:isolate">
<circle cx="246.08" cy="782.44" r="2.60" fill="none" stroke="#4a6a50" stroke-width="1.20" opacity="0.40" filter="url(#mb2)" style="mix-blend-mode:screen"/>
</g>
<rect x="280.20" y="750.80" width="78.60" height="78.80" fill="#020203"/>
<g clip-path="url(#mc13)" style="isolation:isolate">
<ellipse cx="292.67" cy="755.48" rx="6.24" ry="6.24" fill="url(#hR1)" filter="url(#mb2)" style="mix-blend-mode:screen"/>
<ellipse cx="284.43" cy="754.49" rx="6.24" ry="6.24" fill="url(#hR1)" opacity="0.90" filter="url(#mb2)" style="mix-blend-mode:screen"/>
<ellipse cx="305.65" cy="753.74" rx="6.24" ry="6.24" fill="url(#hR1)" opacity="0.90" filter="url(#mb2)" style="mix-blend-mode:screen"/>
<ellipse cx="338.60" cy="764.47" rx="6.24" ry="6.24" fill="url(#hR1)" opacity="0.90" filter="url(#mb2)" style="mix-blend-mode:screen"/>
<ellipse cx="326.87" cy="770.71" rx="6.46" ry="6.46" fill="url(#hR1)" filter="url(#mb2)" style="mix-blend-mode:screen"/>
<ellipse cx="297.41" cy="779.45" rx="7.32" ry="7.32" fill="url(#hR1)" filter="url(#mb2)" style="mix-blend-mode:screen"/>
<ellipse cx="308.65" cy="785.69" rx="6.24" ry="6.24" fill="url(#hR1)" opacity="0.90" filter="url(#mb2)" style="mix-blend-mode:screen"/>
<ellipse cx="328.12" cy="783.69" rx="6.89" ry="6.89" fill="url(#hR1)" filter="url(#mb2)" style="mix-blend-mode:screen"/>
<ellipse cx="336.11" cy="781.94" rx="6.24" ry="6.24" fill="url(#hR1)" opacity="0.90" filter="url(#mb2)" style="mix-blend-mode:screen"/>
<ellipse cx="344.84" cy="786.19" rx="6.89" ry="6.89" fill="url(#hR1)" filter="url(#mb2)" style="mix-blend-mode:screen"/>
<ellipse cx="340.60" cy="777.45" rx="6.24" ry="6.24" fill="url(#hR1)" opacity="0.90" filter="url(#mb2)" style="mix-blend-mode:screen"/>
<ellipse cx="326.37" cy="794.93" rx="6.89" ry="6.89" fill="url(#hR1)" filter="url(#mb2)" style="mix-blend-mode:screen"/>
<ellipse cx="318.13" cy="798.67" rx="6.24" ry="6.24" fill="url(#hR1)" opacity="0.90" filter="url(#mb2)" style="mix-blend-mode:screen"/>
<ellipse cx="301.91" cy="792.43" rx="6.24" ry="6.24" fill="url(#hR1)" opacity="0.90" filter="url(#mb2)" style="mix-blend-mode:screen"/>
<ellipse cx="282.69" cy="806.16" rx="6.24" ry="6.24" fill="url(#hR1)" opacity="0.96" filter="url(#mb2)" style="mix-blend-mode:screen"/>
<ellipse cx="336.85" cy="807.91" rx="6.24" ry="6.24" fill="url(#hR1)" opacity="0.92" filter="url(#mb2)" style="mix-blend-mode:screen"/>
<ellipse cx="308.65" cy="813.65" rx="7.32" ry="7.32" fill="url(#hR1)" filter="url(#mb2)" style="mix-blend-mode:screen"/>
<ellipse cx="298.16" cy="823.63" rx="6.24" ry="6.24" fill="url(#hR1)" opacity="0.90" filter="url(#mb2)" style="mix-blend-mode:screen"/>
<ellipse cx="320.63" cy="828.62" rx="6.24" ry="6.24" fill="url(#hR1)" opacity="0.90" filter="url(#mb2)" style="mix-blend-mode:screen"/>
<ellipse cx="286.18" cy="762.97" rx="1.72" ry="1.72" fill="url(#hR1)" filter="url(#mb2)" style="mix-blend-mode:screen"/>
<ellipse cx="329.37" cy="753.74" rx="3.44" ry="3.44" fill="url(#hR1)" opacity="0.80" filter="url(#mb2)" style="mix-blend-mode:screen"/>
<ellipse cx="315.64" cy="828.62" rx="4.02" ry="4.02" fill="url(#hR1)" opacity="0.60" filter="url(#mb2)" style="mix-blend-mode:screen"/>
<circle cx="292.67" cy="755.48" r="3.77" fill="url(#hBm)" opacity="0.82" filter="url(#mb2)"/>
<circle cx="284.43" cy="754.49" r="2.70" fill="url(#hBm)" opacity="0.41" filter="url(#mb2)"/>
<circle cx="305.65" cy="753.74" r="2.70" fill="url(#hBm)" opacity="0.41" filter="url(#mb2)"/>
<circle cx="338.60" cy="764.47" r="3.24" fill="url(#hBm)" opacity="0.49" filter="url(#mb2)"/>
<circle cx="326.87" cy="770.71" r="4.04" fill="url(#hBm)" opacity="0.82" filter="url(#mb2)"/>
<circle cx="297.41" cy="779.45" r="4.58" fill="url(#hBm)" opacity="0.82" filter="url(#mb2)"/>
<circle cx="308.65" cy="785.69" r="2.70" fill="url(#hBm)" opacity="0.41" filter="url(#mb2)"/>
<circle cx="328.12" cy="783.69" r="4.31" fill="url(#hBm)" opacity="0.82" filter="url(#mb2)"/>
<circle cx="336.11" cy="781.94" r="2.70" fill="url(#hBm)" opacity="0.57" filter="url(#mb2)"/>
<circle cx="344.84" cy="786.19" r="4.31" fill="url(#hBm)" opacity="0.82" filter="url(#mb2)"/>
<circle cx="340.60" cy="777.45" r="2.70" fill="url(#hBm)" opacity="0.41" filter="url(#mb2)"/>
<circle cx="326.37" cy="794.93" r="4.31" fill="url(#hBm)" opacity="0.82" filter="url(#mb2)"/>
<circle cx="318.13" cy="798.67" r="2.70" fill="url(#hBm)" opacity="0.37" filter="url(#mb2)"/>
<circle cx="301.91" cy="792.43" r="2.70" fill="url(#hBm)" opacity="0.25" filter="url(#mb2)"/>
<circle cx="282.69" cy="806.16" r="3.77" fill="url(#hBm)" opacity="0.74" filter="url(#mb2)"/>
<circle cx="336.85" cy="807.91" r="3.24" fill="url(#hBm)" opacity="0.66" filter="url(#mb2)"/>
<circle cx="308.65" cy="813.65" r="4.58" fill="url(#hBm)" opacity="0.82" filter="url(#mb2)"/>
<circle cx="298.16" cy="823.63" r="2.70" fill="url(#hBm)" opacity="0.41" filter="url(#mb2)"/>
<circle cx="320.63" cy="828.62" r="2.16" fill="url(#hBm)" opacity="0.33" filter="url(#mb2)"/>
</g>
<rect x="37.00" y="831.80" width="78.60" height="79.40" fill="#020203"/>
<g clip-path="url(#mc14)" style="isolation:isolate">
<ellipse cx="39.99" cy="844.72" rx="4.54" ry="4.54" fill="url(#hB)" opacity="0.85" filter="url(#mb2)" style="mix-blend-mode:screen"/>
<ellipse cx="55.71" cy="842.97" rx="5.52" ry="5.52" fill="url(#hB)" opacity="0.95" filter="url(#mb2)" style="mix-blend-mode:screen"/>
<ellipse cx="48.72" cy="849.71" rx="3.25" ry="3.25" fill="url(#hB)" opacity="0.47" filter="url(#mb2)" style="mix-blend-mode:screen"/>
<ellipse cx="71.19" cy="836.48" rx="3.89" ry="3.89" fill="url(#hB)" opacity="0.47" filter="url(#mb2)" style="mix-blend-mode:screen"/>
<ellipse cx="67.44" cy="842.23" rx="3.25" ry="3.25" fill="url(#hB)" opacity="0.38" filter="url(#mb2)" style="mix-blend-mode:screen"/>
<ellipse cx="79.93" cy="844.72" rx="3.89" ry="3.89" fill="url(#hB)" opacity="0.43" filter="url(#mb2)" style="mix-blend-mode:screen"/>
<ellipse cx="86.91" cy="851.71" rx="5.52" ry="5.52" fill="url(#hB)" opacity="0.95" filter="url(#mb2)" style="mix-blend-mode:screen"/>
<ellipse cx="76.18" cy="853.46" rx="3.89" ry="3.89" fill="url(#hB)" opacity="0.47" filter="url(#mb2)" style="mix-blend-mode:screen"/>
<ellipse cx="87.91" cy="860.95" rx="5.19" ry="5.19" fill="url(#hB)" opacity="0.95" filter="url(#mb2)" style="mix-blend-mode:screen"/>
<ellipse cx="77.43" cy="862.94" rx="3.89" ry="3.89" fill="url(#hB)" opacity="0.47" filter="url(#mb2)" style="mix-blend-mode:screen"/>
<ellipse cx="89.16" cy="869.68" rx="5.84" ry="5.84" fill="url(#hB)" opacity="0.95" filter="url(#mb2)" style="mix-blend-mode:screen"/>
<ellipse cx="101.14" cy="867.94" rx="5.52" ry="5.52" fill="url(#hB)" opacity="0.90" filter="url(#mb2)" style="mix-blend-mode:screen"/>
<ellipse cx="111.13" cy="868.94" rx="4.87" ry="4.87" fill="url(#hB)" opacity="0.85" filter="url(#mb2)" style="mix-blend-mode:screen"/>
<ellipse cx="106.14" cy="858.45" rx="3.89" ry="3.89" fill="url(#hB)" opacity="0.43" filter="url(#mb2)" style="mix-blend-mode:screen"/>
<ellipse cx="81.17" cy="875.93" rx="5.52" ry="5.52" fill="url(#hB)" opacity="0.95" filter="url(#mb2)" style="mix-blend-mode:screen"/>
<ellipse cx="97.40" cy="877.17" rx="3.89" ry="3.89" fill="url(#hB)" opacity="0.76" filter="url(#mb2)" style="mix-blend-mode:screen"/>
<ellipse cx="92.41" cy="884.66" rx="4.54" ry="4.54" fill="url(#hB)" opacity="0.76" filter="url(#mb2)" style="mix-blend-mode:screen"/>
<ellipse cx="109.88" cy="885.91" rx="4.87" ry="4.87" fill="url(#hB)" opacity="0.85" filter="url(#mb2)" style="mix-blend-mode:screen"/>
<ellipse cx="61.95" cy="887.16" rx="5.19" ry="5.19" fill="url(#hB)" opacity="0.81" filter="url(#mb2)" style="mix-blend-mode:screen"/>
<ellipse cx="43.73" cy="893.90" rx="4.87" ry="4.87" fill="url(#hB)" opacity="0.85" filter="url(#mb2)" style="mix-blend-mode:screen"/>
<ellipse cx="77.43" cy="895.90" rx="5.52" ry="5.52" fill="url(#hB)" opacity="0.85" filter="url(#mb2)" style="mix-blend-mode:screen"/>
<ellipse cx="89.91" cy="900.39" rx="4.87" ry="4.87" fill="url(#hB)" opacity="0.76" filter="url(#mb2)" style="mix-blend-mode:screen"/>
<ellipse cx="43.73" cy="904.63" rx="3.25" ry="3.25" fill="url(#hB)" opacity="0.47" filter="url(#mb2)" style="mix-blend-mode:screen"/>
<ellipse cx="113.62" cy="897.14" rx="3.25" ry="3.25" fill="url(#hB)" opacity="0.66" filter="url(#mb2)" style="mix-blend-mode:screen"/>
<ellipse cx="107.38" cy="904.63" rx="3.25" ry="3.25" fill="url(#hB)" opacity="0.38" filter="url(#mb2)" style="mix-blend-mode:screen"/>
</g>
<rect x="118.40" y="831.80" width="78.60" height="79.40" fill="#020203"/>
<g clip-path="url(#mc15)" style="isolation:isolate">
<ellipse cx="121.39" cy="844.72" rx="7.03" ry="7.03" fill="url(#hR2)" opacity="0.86" filter="url(#mb2)" style="mix-blend-mode:screen"/>
<ellipse cx="137.11" cy="842.97" rx="8.54" ry="8.54" fill="url(#hR2)" opacity="0.90" filter="url(#mb2)" style="mix-blend-mode:screen"/>
<ellipse cx="130.12" cy="849.71" rx="6.78" ry="6.78" fill="url(#hR2)" opacity="0.74" filter="url(#mb2)" style="mix-blend-mode:screen"/>
<ellipse cx="152.59" cy="836.48" rx="6.78" ry="6.78" fill="url(#hR2)" opacity="0.74" filter="url(#mb2)" style="mix-blend-mode:screen"/>
<ellipse cx="148.84" cy="842.23" rx="6.78" ry="6.78" fill="url(#hR2)" opacity="0.74" filter="url(#mb2)" style="mix-blend-mode:screen"/>
<ellipse cx="161.33" cy="844.72" rx="6.78" ry="6.78" fill="url(#hR2)" opacity="0.74" filter="url(#mb2)" style="mix-blend-mode:screen"/>
<ellipse cx="168.31" cy="851.71" rx="8.54" ry="8.54" fill="url(#hR2)" opacity="0.90" filter="url(#mb2)" style="mix-blend-mode:screen"/>
<ellipse cx="157.58" cy="853.46" rx="6.78" ry="6.78" fill="url(#hR2)" opacity="0.74" filter="url(#mb2)" style="mix-blend-mode:screen"/>
<ellipse cx="169.31" cy="860.95" rx="8.04" ry="8.04" fill="url(#hR2)" opacity="0.90" filter="url(#mb2)" style="mix-blend-mode:screen"/>
<ellipse cx="158.83" cy="862.94" rx="6.78" ry="6.78" fill="url(#hR2)" opacity="0.74" filter="url(#mb2)" style="mix-blend-mode:screen"/>
<ellipse cx="170.56" cy="869.68" rx="9.04" ry="9.04" fill="url(#hR2)" opacity="0.90" filter="url(#mb2)" style="mix-blend-mode:screen"/>
<ellipse cx="182.54" cy="867.94" rx="8.54" ry="8.54" fill="url(#hR2)" opacity="0.88" filter="url(#mb2)" style="mix-blend-mode:screen"/>
<ellipse cx="192.53" cy="868.94" rx="7.54" ry="7.54" fill="url(#hR2)" opacity="0.86" filter="url(#mb2)" style="mix-blend-mode:screen"/>
<ellipse cx="187.54" cy="858.45" rx="6.78" ry="6.78" fill="url(#hR2)" opacity="0.74" filter="url(#mb2)" style="mix-blend-mode:screen"/>
<ellipse cx="162.57" cy="875.93" rx="8.54" ry="8.54" fill="url(#hR2)" opacity="0.90" filter="url(#mb2)" style="mix-blend-mode:screen"/>
<ellipse cx="178.80" cy="877.17" rx="6.78" ry="6.78" fill="url(#hR2)" opacity="0.83" filter="url(#mb2)" style="mix-blend-mode:screen"/>
<ellipse cx="173.81" cy="884.66" rx="7.03" ry="7.03" fill="url(#hR2)" opacity="0.83" filter="url(#mb2)" style="mix-blend-mode:screen"/>
<ellipse cx="191.28" cy="885.91" rx="7.54" ry="7.54" fill="url(#hR2)" opacity="0.86" filter="url(#mb2)" style="mix-blend-mode:screen"/>
<ellipse cx="143.35" cy="887.16" rx="8.04" ry="8.04" fill="url(#hR2)" opacity="0.85" filter="url(#mb2)" style="mix-blend-mode:screen"/>
<ellipse cx="125.13" cy="893.90" rx="7.54" ry="7.54" fill="url(#hR2)" opacity="0.86" filter="url(#mb2)" style="mix-blend-mode:screen"/>
<ellipse cx="158.83" cy="895.90" rx="8.54" ry="8.54" fill="url(#hR2)" opacity="0.86" filter="url(#mb2)" style="mix-blend-mode:screen"/>
<ellipse cx="171.31" cy="900.39" rx="7.54" ry="7.54" fill="url(#hR2)" opacity="0.83" filter="url(#mb2)" style="mix-blend-mode:screen"/>
<ellipse cx="125.13" cy="904.63" rx="6.78" ry="6.78" fill="url(#hR2)" opacity="0.74" filter="url(#mb2)" style="mix-blend-mode:screen"/>
<ellipse cx="195.02" cy="897.14" rx="6.78" ry="6.78" fill="url(#hR2)" opacity="0.80" filter="url(#mb2)" style="mix-blend-mode:screen"/>
<ellipse cx="188.78" cy="904.63" rx="6.78" ry="6.78" fill="url(#hR2)" opacity="0.74" filter="url(#mb2)" style="mix-blend-mode:screen"/>
<ellipse cx="143.85" cy="850.96" rx="7.46" ry="7.46" fill="url(#hR2)" opacity="0.60" filter="url(#mb2)" style="mix-blend-mode:screen"/>
<ellipse cx="153.84" cy="855.96" rx="8.61" ry="8.61" fill="url(#hR2)" opacity="0.55" filter="url(#mb2)" style="mix-blend-mode:screen"/>
<ellipse cx="176.30" cy="855.96" rx="8.61" ry="8.61" fill="url(#hR2)" opacity="0.50" filter="url(#mb2)" style="mix-blend-mode:screen"/>
<ellipse cx="188.78" cy="875.93" rx="8.61" ry="8.61" fill="url(#hR2)" opacity="0.55" filter="url(#mb2)" style="mix-blend-mode:screen"/>
</g>
<rect x="199.40" y="831.80" width="78.60" height="79.40" fill="#020203"/>
<g clip-path="url(#mc16)" style="isolation:isolate">
<circle cx="202.39" cy="844.72" r="5.50" fill="none" stroke="#2c9c3c" stroke-width="1.30" opacity="0.19" filter="url(#mb2)" style="mix-blend-mode:screen"/>
<circle cx="218.11" cy="842.97" r="6.68" fill="none" stroke="#2c9c3c" stroke-width="1.30" opacity="0.34" filter="url(#mb2)" style="mix-blend-mode:screen"/>
<circle cx="211.12" cy="849.71" r="3.93" fill="none" stroke="#2c9c3c" stroke-width="1.30" opacity="0.27" filter="url(#mb2)" style="mix-blend-mode:screen"/>
<circle cx="233.59" cy="836.48" r="4.72" fill="none" stroke="#2c9c3c" stroke-width="1.30" opacity="0.16" filter="url(#mb2)" style="mix-blend-mode:screen"/>
<circle cx="229.84" cy="842.23" r="3.93" fill="none" stroke="#2c9c3c" stroke-width="1.30" opacity="0.26" filter="url(#mb2)" style="mix-blend-mode:screen"/>
<circle cx="242.33" cy="844.72" r="4.72" fill="none" stroke="#2c9c3c" stroke-width="1.30" opacity="0.27" filter="url(#mb2)" style="mix-blend-mode:screen"/>
<circle cx="249.31" cy="851.71" r="6.68" fill="none" stroke="#2c9c3c" stroke-width="1.30" opacity="0.20" filter="url(#mb2)" style="mix-blend-mode:screen"/>
<circle cx="238.58" cy="853.46" r="4.72" fill="none" stroke="#2c9c3c" stroke-width="1.30" opacity="0.27" filter="url(#mb2)" style="mix-blend-mode:screen"/>
<circle cx="250.31" cy="860.95" r="6.29" fill="none" stroke="#2c9c3c" stroke-width="1.30" opacity="0.34" filter="url(#mb2)" style="mix-blend-mode:screen"/>
<circle cx="239.83" cy="862.94" r="4.72" fill="none" stroke="#2c9c3c" stroke-width="1.30" opacity="0.16" filter="url(#mb2)" style="mix-blend-mode:screen"/>
<circle cx="251.56" cy="869.68" r="7.08" fill="none" stroke="#2c9c3c" stroke-width="1.30" opacity="0.34" filter="url(#mb2)" style="mix-blend-mode:screen"/>
<circle cx="263.54" cy="867.94" r="6.68" fill="none" stroke="#2c9c3c" stroke-width="1.30" opacity="0.33" filter="url(#mb2)" style="mix-blend-mode:screen"/>
<circle cx="273.53" cy="868.94" r="5.90" fill="none" stroke="#2c9c3c" stroke-width="1.30" opacity="0.19" filter="url(#mb2)" style="mix-blend-mode:screen"/>
<circle cx="268.54" cy="858.45" r="4.72" fill="none" stroke="#2c9c3c" stroke-width="1.30" opacity="0.27" filter="url(#mb2)" style="mix-blend-mode:screen"/>
<circle cx="243.57" cy="875.93" r="6.68" fill="none" stroke="#2c9c3c" stroke-width="1.30" opacity="0.34" filter="url(#mb2)" style="mix-blend-mode:screen"/>
<circle cx="259.80" cy="877.17" r="4.72" fill="none" stroke="#2c9c3c" stroke-width="1.30" opacity="0.18" filter="url(#mb2)" style="mix-blend-mode:screen"/>
<circle cx="254.81" cy="884.66" r="5.50" fill="none" stroke="#2c9c3c" stroke-width="1.30" opacity="0.31" filter="url(#mb2)" style="mix-blend-mode:screen"/>
<circle cx="272.28" cy="885.91" r="5.90" fill="none" stroke="#2c9c3c" stroke-width="1.30" opacity="0.33" filter="url(#mb2)" style="mix-blend-mode:screen"/>
<circle cx="224.35" cy="887.16" r="6.29" fill="none" stroke="#2c9c3c" stroke-width="1.30" opacity="0.19" filter="url(#mb2)" style="mix-blend-mode:screen"/>
<circle cx="206.13" cy="893.90" r="5.90" fill="none" stroke="#2c9c3c" stroke-width="1.30" opacity="0.33" filter="url(#mb2)" style="mix-blend-mode:screen"/>
<circle cx="239.83" cy="895.90" r="6.68" fill="none" stroke="#2c9c3c" stroke-width="1.30" opacity="0.33" filter="url(#mb2)" style="mix-blend-mode:screen"/>
<circle cx="252.31" cy="900.39" r="5.90" fill="none" stroke="#2c9c3c" stroke-width="1.30" opacity="0.18" filter="url(#mb2)" style="mix-blend-mode:screen"/>
<circle cx="206.13" cy="904.63" r="3.93" fill="none" stroke="#2c9c3c" stroke-width="1.30" opacity="0.27" filter="url(#mb2)" style="mix-blend-mode:screen"/>
<circle cx="276.02" cy="897.14" r="3.93" fill="none" stroke="#2c9c3c" stroke-width="1.30" opacity="0.30" filter="url(#mb2)" style="mix-blend-mode:screen"/>
<circle cx="269.78" cy="904.63" r="3.93" fill="none" stroke="#2c9c3c" stroke-width="1.30" opacity="0.15" filter="url(#mb2)" style="mix-blend-mode:screen"/>
<ellipse cx="208.64" cy="853.96" rx="1.27" ry="1.27" fill="url(#gG)" opacity="0.85" filter="url(#mb3)" style="mix-blend-mode:screen"/>
<ellipse cx="249.82" cy="850.96" rx="2.12" ry="2.12" fill="url(#gG)" opacity="0.95" filter="url(#mb3)" style="mix-blend-mode:screen"/>
<ellipse cx="246.08" cy="848.47" rx="1.27" ry="1.27" fill="url(#gG)" opacity="0.76" filter="url(#mb3)" style="mix-blend-mode:screen"/>
<ellipse cx="234.85" cy="860.95" rx="1.49" ry="1.49" fill="url(#gG)" opacity="0.95" filter="url(#mb3)" style="mix-blend-mode:screen"/>
<ellipse cx="238.59" cy="862.94" rx="1.49" ry="1.49" fill="url(#gG)" opacity="0.95" filter="url(#mb3)" style="mix-blend-mode:screen"/>
<ellipse cx="241.59" cy="864.94" rx="1.27" ry="1.27" fill="url(#gG)" opacity="0.95" filter="url(#mb3)" style="mix-blend-mode:screen"/>
<ellipse cx="263.55" cy="872.18" rx="2.33" ry="2.33" fill="url(#gG)" opacity="0.95" filter="url(#mb3)" style="mix-blend-mode:screen"/>
<ellipse cx="260.56" cy="873.93" rx="1.49" ry="1.49" fill="url(#gG)" opacity="0.95" filter="url(#mb3)" style="mix-blend-mode:screen"/>
<ellipse cx="257.31" cy="877.17" rx="1.27" ry="1.27" fill="url(#gG)" opacity="0.85" filter="url(#mb3)" style="mix-blend-mode:screen"/>
<ellipse cx="273.54" cy="887.16" rx="2.12" ry="2.12" fill="url(#gG)" opacity="0.95" filter="url(#mb3)" style="mix-blend-mode:screen"/>
<ellipse cx="237.34" cy="891.40" rx="1.27" ry="1.27" fill="url(#gG)" opacity="0.85" filter="url(#mb3)" style="mix-blend-mode:screen"/>
<ellipse cx="236.09" cy="900.89" rx="1.27" ry="1.27" fill="url(#gG)" opacity="0.85" filter="url(#mb3)" style="mix-blend-mode:screen"/>
<ellipse cx="243.58" cy="903.38" rx="1.27" ry="1.27" fill="url(#gG)" opacity="0.85" filter="url(#mb3)" style="mix-blend-mode:screen"/>
<ellipse cx="208.64" cy="907.13" rx="1.27" ry="1.27" fill="url(#gG)" opacity="0.85" filter="url(#mb3)" style="mix-blend-mode:screen"/>
<ellipse cx="267.30" cy="905.88" rx="1.27" ry="1.27" fill="url(#gG)" opacity="0.76" filter="url(#mb3)" style="mix-blend-mode:screen"/>
<ellipse cx="264.80" cy="863.44" rx="1.27" ry="1.27" fill="url(#gG)" opacity="0.76" filter="url(#mb3)" style="mix-blend-mode:screen"/>
<ellipse cx="251.07" cy="870.93" rx="1.27" ry="1.27" fill="url(#gG)" opacity="0.66" filter="url(#mb3)" style="mix-blend-mode:screen"/>
<ellipse cx="226.11" cy="837.23" rx="1.06" ry="1.06" fill="url(#gG)" opacity="0.66" filter="url(#mb3)" style="mix-blend-mode:screen"/>
<ellipse cx="241.09" cy="842.23" rx="1.06" ry="1.06" fill="url(#gG)" opacity="0.57" filter="url(#mb3)" style="mix-blend-mode:screen"/>
<ellipse cx="252.32" cy="878.42" rx="1.27" ry="1.27" fill="url(#gG)" opacity="0.76" filter="url(#mb3)" style="mix-blend-mode:screen"/>
<ellipse cx="269.79" cy="865.94" rx="1.06" ry="1.06" fill="url(#gG)" opacity="0.66" filter="url(#mb3)" style="mix-blend-mode:screen"/>
<ellipse cx="229.85" cy="873.43" rx="1.06" ry="1.06" fill="url(#gG)" opacity="0.57" filter="url(#mb3)" style="mix-blend-mode:screen"/>
</g>
<rect x="280.20" y="831.80" width="78.60" height="79.40" fill="#020203"/>
<g clip-path="url(#mc17)" style="isolation:isolate">
<ellipse cx="283.19" cy="844.72" rx="7.03" ry="7.03" fill="url(#hR2)" opacity="0.86" filter="url(#mb2)" style="mix-blend-mode:screen"/>
<ellipse cx="298.91" cy="842.97" rx="8.54" ry="8.54" fill="url(#hR2)" opacity="0.90" filter="url(#mb2)" style="mix-blend-mode:screen"/>
<ellipse cx="291.92" cy="849.71" rx="6.78" ry="6.78" fill="url(#hR2)" opacity="0.74" filter="url(#mb2)" style="mix-blend-mode:screen"/>
<ellipse cx="314.39" cy="836.48" rx="6.78" ry="6.78" fill="url(#hR2)" opacity="0.74" filter="url(#mb2)" style="mix-blend-mode:screen"/>
<ellipse cx="310.64" cy="842.23" rx="6.78" ry="6.78" fill="url(#hR2)" opacity="0.74" filter="url(#mb2)" style="mix-blend-mode:screen"/>
<ellipse cx="323.13" cy="844.72" rx="6.78" ry="6.78" fill="url(#hR2)" opacity="0.74" filter="url(#mb2)" style="mix-blend-mode:screen"/>
<ellipse cx="330.11" cy="851.71" rx="8.54" ry="8.54" fill="url(#hR2)" opacity="0.90" filter="url(#mb2)" style="mix-blend-mode:screen"/>
<ellipse cx="319.38" cy="853.46" rx="6.78" ry="6.78" fill="url(#hR2)" opacity="0.74" filter="url(#mb2)" style="mix-blend-mode:screen"/>
<ellipse cx="331.11" cy="860.95" rx="8.04" ry="8.04" fill="url(#hR2)" opacity="0.90" filter="url(#mb2)" style="mix-blend-mode:screen"/>
<ellipse cx="320.63" cy="862.94" rx="6.78" ry="6.78" fill="url(#hR2)" opacity="0.74" filter="url(#mb2)" style="mix-blend-mode:screen"/>
<ellipse cx="332.36" cy="869.68" rx="9.04" ry="9.04" fill="url(#hR2)" opacity="0.90" filter="url(#mb2)" style="mix-blend-mode:screen"/>
<ellipse cx="344.34" cy="867.94" rx="8.54" ry="8.54" fill="url(#hR2)" opacity="0.88" filter="url(#mb2)" style="mix-blend-mode:screen"/>
<ellipse cx="354.33" cy="868.94" rx="7.54" ry="7.54" fill="url(#hR2)" opacity="0.86" filter="url(#mb2)" style="mix-blend-mode:screen"/>
<ellipse cx="349.34" cy="858.45" rx="6.78" ry="6.78" fill="url(#hR2)" opacity="0.74" filter="url(#mb2)" style="mix-blend-mode:screen"/>
<ellipse cx="324.37" cy="875.93" rx="8.54" ry="8.54" fill="url(#hR2)" opacity="0.90" filter="url(#mb2)" style="mix-blend-mode:screen"/>
<ellipse cx="340.60" cy="877.17" rx="6.78" ry="6.78" fill="url(#hR2)" opacity="0.83" filter="url(#mb2)" style="mix-blend-mode:screen"/>
<ellipse cx="335.61" cy="884.66" rx="7.03" ry="7.03" fill="url(#hR2)" opacity="0.83" filter="url(#mb2)" style="mix-blend-mode:screen"/>
<ellipse cx="353.08" cy="885.91" rx="7.54" ry="7.54" fill="url(#hR2)" opacity="0.86" filter="url(#mb2)" style="mix-blend-mode:screen"/>
<ellipse cx="305.15" cy="887.16" rx="8.04" ry="8.04" fill="url(#hR2)" opacity="0.85" filter="url(#mb2)" style="mix-blend-mode:screen"/>
<ellipse cx="286.93" cy="893.90" rx="7.54" ry="7.54" fill="url(#hR2)" opacity="0.86" filter="url(#mb2)" style="mix-blend-mode:screen"/>
<ellipse cx="320.63" cy="895.90" rx="8.54" ry="8.54" fill="url(#hR2)" opacity="0.86" filter="url(#mb2)" style="mix-blend-mode:screen"/>
<ellipse cx="333.11" cy="900.39" rx="7.54" ry="7.54" fill="url(#hR2)" opacity="0.83" filter="url(#mb2)" style="mix-blend-mode:screen"/>
<ellipse cx="286.93" cy="904.63" rx="6.78" ry="6.78" fill="url(#hR2)" opacity="0.74" filter="url(#mb2)" style="mix-blend-mode:screen"/>
<ellipse cx="356.82" cy="897.14" rx="6.78" ry="6.78" fill="url(#hR2)" opacity="0.80" filter="url(#mb2)" style="mix-blend-mode:screen"/>
<ellipse cx="350.58" cy="904.63" rx="6.78" ry="6.78" fill="url(#hR2)" opacity="0.74" filter="url(#mb2)" style="mix-blend-mode:screen"/>
<ellipse cx="305.65" cy="850.96" rx="7.46" ry="7.46" fill="url(#hR2)" opacity="0.60" filter="url(#mb2)" style="mix-blend-mode:screen"/>
<ellipse cx="315.64" cy="855.96" rx="8.61" ry="8.61" fill="url(#hR2)" opacity="0.55" filter="url(#mb2)" style="mix-blend-mode:screen"/>
<ellipse cx="338.10" cy="855.96" rx="8.61" ry="8.61" fill="url(#hR2)" opacity="0.50" filter="url(#mb2)" style="mix-blend-mode:screen"/>
<ellipse cx="350.58" cy="875.93" rx="8.61" ry="8.61" fill="url(#hR2)" opacity="0.55" filter="url(#mb2)" style="mix-blend-mode:screen"/>
<circle cx="283.19" cy="844.72" r="4.37" fill="url(#hBm)" opacity="0.85" filter="url(#mb2)"/>
<circle cx="298.91" cy="842.97" r="5.30" fill="url(#hBm)" opacity="0.95" filter="url(#mb2)"/>
<circle cx="291.92" cy="849.71" r="3.12" fill="url(#hBm)" opacity="0.47" filter="url(#mb2)"/>
<circle cx="314.39" cy="836.48" r="3.74" fill="url(#hBm)" opacity="0.47" filter="url(#mb2)"/>
<circle cx="310.64" cy="842.23" r="3.12" fill="url(#hBm)" opacity="0.38" filter="url(#mb2)"/>
<circle cx="323.13" cy="844.72" r="3.74" fill="url(#hBm)" opacity="0.43" filter="url(#mb2)"/>
<circle cx="330.11" cy="851.71" r="5.30" fill="url(#hBm)" opacity="0.95" filter="url(#mb2)"/>
<circle cx="319.38" cy="853.46" r="3.74" fill="url(#hBm)" opacity="0.47" filter="url(#mb2)"/>
<circle cx="331.11" cy="860.95" r="4.99" fill="url(#hBm)" opacity="0.95" filter="url(#mb2)"/>
<circle cx="320.63" cy="862.94" r="3.74" fill="url(#hBm)" opacity="0.47" filter="url(#mb2)"/>
<circle cx="332.36" cy="869.68" r="5.62" fill="url(#hBm)" opacity="0.95" filter="url(#mb2)"/>
<circle cx="344.34" cy="867.94" r="5.30" fill="url(#hBm)" opacity="0.90" filter="url(#mb2)"/>
<circle cx="354.33" cy="868.94" r="4.68" fill="url(#hBm)" opacity="0.85" filter="url(#mb2)"/>
<circle cx="349.34" cy="858.45" r="3.74" fill="url(#hBm)" opacity="0.43" filter="url(#mb2)"/>
<circle cx="324.37" cy="875.93" r="5.30" fill="url(#hBm)" opacity="0.95" filter="url(#mb2)"/>
<circle cx="340.60" cy="877.17" r="3.74" fill="url(#hBm)" opacity="0.76" filter="url(#mb2)"/>
<circle cx="335.61" cy="884.66" r="4.37" fill="url(#hBm)" opacity="0.76" filter="url(#mb2)"/>
<circle cx="353.08" cy="885.91" r="4.68" fill="url(#hBm)" opacity="0.85" filter="url(#mb2)"/>
<circle cx="305.15" cy="887.16" r="4.99" fill="url(#hBm)" opacity="0.81" filter="url(#mb2)"/>
<circle cx="286.93" cy="893.90" r="4.68" fill="url(#hBm)" opacity="0.85" filter="url(#mb2)"/>
<circle cx="320.63" cy="895.90" r="5.30" fill="url(#hBm)" opacity="0.85" filter="url(#mb2)"/>
<circle cx="333.11" cy="900.39" r="4.68" fill="url(#hBm)" opacity="0.76" filter="url(#mb2)"/>
<circle cx="286.93" cy="904.63" r="3.12" fill="url(#hBm)" opacity="0.47" filter="url(#mb2)"/>
<circle cx="356.82" cy="897.14" r="3.12" fill="url(#hBm)" opacity="0.66" filter="url(#mb2)"/>
<circle cx="350.58" cy="904.63" r="3.12" fill="url(#hBm)" opacity="0.38" filter="url(#mb2)"/>
<ellipse cx="289.44" cy="853.96" rx="1.27" ry="1.27" fill="url(#gYG)" opacity="0.81" filter="url(#mb3)" style="mix-blend-mode:screen"/>
<ellipse cx="330.62" cy="850.96" rx="2.12" ry="2.12" fill="url(#gYG)" opacity="0.90" filter="url(#mb3)" style="mix-blend-mode:screen"/>
<ellipse cx="326.88" cy="848.47" rx="1.27" ry="1.27" fill="url(#gYG)" opacity="0.72" filter="url(#mb3)" style="mix-blend-mode:screen"/>
<ellipse cx="315.65" cy="860.95" rx="1.49" ry="1.49" fill="url(#gYG)" opacity="0.90" filter="url(#mb3)" style="mix-blend-mode:screen"/>
<ellipse cx="319.39" cy="862.94" rx="1.49" ry="1.49" fill="url(#gYG)" opacity="0.90" filter="url(#mb3)" style="mix-blend-mode:screen"/>
<ellipse cx="322.39" cy="864.94" rx="1.27" ry="1.27" fill="url(#gYG)" opacity="0.90" filter="url(#mb3)" style="mix-blend-mode:screen"/>
<ellipse cx="344.35" cy="872.18" rx="2.33" ry="2.33" fill="url(#gYG)" opacity="0.90" filter="url(#mb3)" style="mix-blend-mode:screen"/>
<ellipse cx="341.36" cy="873.93" rx="1.49" ry="1.49" fill="url(#gYG)" opacity="0.90" filter="url(#mb3)" style="mix-blend-mode:screen"/>
<ellipse cx="338.11" cy="877.17" rx="1.27" ry="1.27" fill="url(#gYG)" opacity="0.81" filter="url(#mb3)" style="mix-blend-mode:screen"/>
<ellipse cx="354.34" cy="887.16" rx="2.12" ry="2.12" fill="url(#gYG)" opacity="0.90" filter="url(#mb3)" style="mix-blend-mode:screen"/>
<ellipse cx="318.14" cy="891.40" rx="1.27" ry="1.27" fill="url(#gYG)" opacity="0.81" filter="url(#mb3)" style="mix-blend-mode:screen"/>
<ellipse cx="316.89" cy="900.89" rx="1.27" ry="1.27" fill="url(#gYG)" opacity="0.81" filter="url(#mb3)" style="mix-blend-mode:screen"/>
<ellipse cx="324.38" cy="903.38" rx="1.27" ry="1.27" fill="url(#gYG)" opacity="0.81" filter="url(#mb3)" style="mix-blend-mode:screen"/>
<ellipse cx="289.44" cy="907.13" rx="1.27" ry="1.27" fill="url(#gYG)" opacity="0.81" filter="url(#mb3)" style="mix-blend-mode:screen"/>
<ellipse cx="348.10" cy="905.88" rx="1.27" ry="1.27" fill="url(#gYG)" opacity="0.72" filter="url(#mb3)" style="mix-blend-mode:screen"/>
<ellipse cx="345.60" cy="863.44" rx="1.27" ry="1.27" fill="url(#gYG)" opacity="0.72" filter="url(#mb3)" style="mix-blend-mode:screen"/>
<ellipse cx="331.87" cy="870.93" rx="1.27" ry="1.27" fill="url(#gYG)" opacity="0.63" filter="url(#mb3)" style="mix-blend-mode:screen"/>
<ellipse cx="306.91" cy="837.23" rx="1.06" ry="1.06" fill="url(#gYG)" opacity="0.63" filter="url(#mb3)" style="mix-blend-mode:screen"/>
<ellipse cx="321.89" cy="842.23" rx="1.06" ry="1.06" fill="url(#gYG)" opacity="0.54" filter="url(#mb3)" style="mix-blend-mode:screen"/>
<ellipse cx="333.12" cy="878.42" rx="1.27" ry="1.27" fill="url(#gYG)" opacity="0.72" filter="url(#mb3)" style="mix-blend-mode:screen"/>
<ellipse cx="350.59" cy="865.94" rx="1.06" ry="1.06" fill="url(#gYG)" opacity="0.63" filter="url(#mb3)" style="mix-blend-mode:screen"/>
<ellipse cx="310.65" cy="873.43" rx="1.06" ry="1.06" fill="url(#gYG)" opacity="0.54" filter="url(#mb3)" style="mix-blend-mode:screen"/>
</g>
<rect x="326.00" y="906.80" width="29.00" height="1.80" fill="#f4f4f4"/>
<text x="370.60" y="666.30" font-size="13.5" font-weight="bold" fill="#1c1c1c">H</text>
<line x1="422.30" y1="666.80" x2="422.30" y2="772.60" stroke="#2a2a2a" stroke-width="1.0"/>
<line x1="415.30" y1="667.30" x2="422.30" y2="667.30" stroke="#2a2a2a" stroke-width="1.0"/>
<text x="413.60" y="672.50" font-size="13" text-anchor="end" fill="#1c1c1c">600</text>
<line x1="415.30" y1="702.10" x2="422.30" y2="702.10" stroke="#2a2a2a" stroke-width="1.0"/>
<text x="413.60" y="707.30" font-size="13" text-anchor="end" fill="#1c1c1c">500</text>
<line x1="415.30" y1="737.10" x2="422.30" y2="737.10" stroke="#2a2a2a" stroke-width="1.0"/>
<text x="413.60" y="742.30" font-size="13" text-anchor="end" fill="#1c1c1c">400</text>
<line x1="415.30" y1="772.10" x2="422.30" y2="772.10" stroke="#2a2a2a" stroke-width="1.0"/>
<text x="413.60" y="777.30" font-size="13" text-anchor="end" fill="#1c1c1c">300</text>
<line x1="421.80" y1="772.10" x2="503.30" y2="772.10" stroke="#2a2a2a" stroke-width="1.0"/>
<line x1="462.70" y1="772.10" x2="462.70" y2="779.10" stroke="#2a2a2a" stroke-width="1.0"/>
<text x="462.00" y="665.00" font-size="12.0" text-anchor="middle" fill="#1c1c1c">RT-qPCR</text>
<text transform="translate(384.10 720.40) rotate(-90)" font-size="13.0" text-anchor="middle" fill="#1c1c1c">ASOs/EV</text>
<text x="462.70" y="792.00" font-size="13.3" text-anchor="middle" fill="#1c1c1c">miR-125b ASO</text>
<line x1="438.70" y1="719.70" x2="486.90" y2="719.70" stroke="#111" stroke-width="1.6"/>
<line x1="462.70" y1="708.40" x2="462.70" y2="730.30" stroke="#161616" stroke-width="1.6"/>
<line x1="450.40" y1="708.40" x2="475.00" y2="708.40" stroke="#161616" stroke-width="1.6"/>
<line x1="450.40" y1="730.30" x2="475.00" y2="730.30" stroke="#161616" stroke-width="1.6"/>
<circle cx="462.70" cy="700.70" r="3.90" fill="#111"/>
<circle cx="462.70" cy="719.70" r="3.90" fill="#111"/>
<circle cx="462.70" cy="738.30" r="3.90" fill="#111"/>
<text x="530.60" y="666.30" font-size="13.5" font-weight="bold" fill="#1c1c1c">I</text>
<line x1="576.30" y1="667.00" x2="576.30" y2="772.50" stroke="#2a2a2a" stroke-width="1.0"/>
<line x1="569.30" y1="667.50" x2="576.30" y2="667.50" stroke="#2a2a2a" stroke-width="1.0"/>
<text x="567.60" y="672.70" font-size="13" text-anchor="end" fill="#1c1c1c">600</text>
<line x1="569.30" y1="702.00" x2="576.30" y2="702.00" stroke="#2a2a2a" stroke-width="1.0"/>
<text x="567.60" y="707.20" font-size="13" text-anchor="end" fill="#1c1c1c">500</text>
<line x1="569.30" y1="737.00" x2="576.30" y2="737.00" stroke="#2a2a2a" stroke-width="1.0"/>
<text x="567.60" y="742.20" font-size="13" text-anchor="end" fill="#1c1c1c">400</text>
<line x1="569.30" y1="772.00" x2="576.30" y2="772.00" stroke="#2a2a2a" stroke-width="1.0"/>
<text x="567.60" y="777.20" font-size="13" text-anchor="end" fill="#1c1c1c">300</text>
<line x1="575.80" y1="772.00" x2="657.10" y2="772.00" stroke="#2a2a2a" stroke-width="1.0"/>
<line x1="616.20" y1="772.00" x2="616.20" y2="779.00" stroke="#2a2a2a" stroke-width="1.0"/>
<text x="618.10" y="665.10" font-size="12.0" text-anchor="middle" fill="#1c1c1c">Native PAGE</text>
<text transform="translate(538.10 720.80) rotate(-90)" font-size="12.0" text-anchor="middle" fill="#1c1c1c">ASOs/EV</text>
<text x="616.00" y="791.60" font-size="12.2" text-anchor="middle" fill="#1c1c1c">miR-125b ASO</text>
<line x1="592.10" y1="695.80" x2="640.60" y2="695.80" stroke="#111" stroke-width="1.6"/>
<line x1="616.20" y1="691.60" x2="616.20" y2="700.30" stroke="#161616" stroke-width="1.6"/>
<line x1="604.00" y1="691.60" x2="628.40" y2="691.60" stroke="#161616" stroke-width="1.6"/>
<line x1="604.00" y1="700.30" x2="628.40" y2="700.30" stroke="#161616" stroke-width="1.6"/>
<circle cx="600.40" cy="688.00" r="3.70" fill="#111"/>
<circle cx="616.20" cy="688.70" r="3.70" fill="#111"/>
<circle cx="631.60" cy="688.00" r="3.70" fill="#111"/>
<circle cx="608.20" cy="695.10" r="3.70" fill="#111"/>
<circle cx="624.00" cy="701.30" r="3.70" fill="#111"/>
<circle cx="616.20" cy="714.30" r="3.70" fill="#111"/>
<text x="372.80" y="820.20" font-size="13.5" font-weight="bold" fill="#1c1c1c">J</text>
<text x="497.80" y="821.20" font-size="12.2" text-anchor="middle" fill="#1c1c1c">miR-125b ASO (µg)</text>
<text x="628.20" y="813.80" font-size="12.2" text-anchor="middle" fill="#1c1c1c">miR-125b ASO</text>
<text x="628.20" y="824.80" font-size="12.2" text-anchor="middle" fill="#1c1c1c">loaded EVs</text>
<line x1="420.60" y1="830.00" x2="575.60" y2="830.00" stroke="#555" stroke-width="1.3"/>
<line x1="579.60" y1="830.00" x2="676.00" y2="830.00" stroke="#555" stroke-width="1.3"/>
<text x="428.30" y="845.60" font-size="11.5" text-anchor="middle" fill="#1c1c1c">1</text>
<text x="462.00" y="845.60" font-size="11.5" text-anchor="middle" fill="#1c1c1c">0.5</text>
<text x="494.40" y="845.60" font-size="11.5" text-anchor="middle" fill="#1c1c1c">0.25</text>
<text x="528.00" y="845.60" font-size="11.5" text-anchor="middle" fill="#1c1c1c">0.125</text>
<text x="560.50" y="845.60" font-size="11.5" text-anchor="middle" fill="#1c1c1c">0.06</text>
<text x="592.60" y="845.60" font-size="11.5" text-anchor="middle" fill="#1c1c1c">D1</text>
<text x="624.70" y="845.60" font-size="11.5" text-anchor="middle" fill="#1c1c1c">D2</text>
<text x="659.50" y="845.60" font-size="11.5" text-anchor="middle" fill="#1c1c1c">D3</text>
<text x="399.50" y="879.20" font-size="12.5" text-anchor="end" fill="#1c1c1c">22 nt</text>
<line x1="401.00" y1="875.20" x2="408.20" y2="875.20" stroke="#2a2a2a" stroke-width="1.0"/>
<text x="541.50" y="910.60" font-size="12.5" text-anchor="middle" fill="#1c1c1c">Native PAGE</text>
<rect x="408.20" y="853.80" width="267.80" height="42.20" fill="#f1f1f1" stroke="#1a1a1a" stroke-width="1.1"/>
<g clip-path="url(#gelclip)">
<rect x="414.6" y="870.6" width="28" height="9.2" rx="4.4" fill="#050505" filter="url(#gb)"/>
<rect x="449.6" y="872.0" width="25" height="6.6" rx="3.2" fill="#101010" filter="url(#gb)"/>
<rect x="483" y="873.4" width="22" height="4.4" rx="2.2" fill="#cfcfcf" filter="url(#gb2)"/>
<rect x="516" y="874.0" width="20" height="3.6" rx="1.8" fill="#e0e0e0" filter="url(#gb2)"/>
<rect x="550" y="874.0" width="18" height="3.4" rx="1.7" fill="#e6e6e6" filter="url(#gb2)"/>
<rect x="580.6" y="866.8" width="25.7" height="13.6" rx="3.5" fill="#8c8c8c" filter="url(#gb2)"/>
<rect x="581.2" y="870.2" width="24.5" height="9.2" rx="3.2" fill="#262626" filter="url(#gb)"/>
<rect x="612.0" y="866.8" width="26.2" height="13.6" rx="3.5" fill="#8c8c8c" filter="url(#gb2)"/>
<rect x="612.6" y="870.2" width="25.0" height="9.2" rx="3.2" fill="#262626" filter="url(#gb)"/>
<rect x="645.6" y="866.8" width="26.8" height="13.6" rx="3.5" fill="#8c8c8c" filter="url(#gb2)"/>
<rect x="646.2" y="870.2" width="25.6" height="9.2" rx="3.2" fill="#262626" filter="url(#gb)"/>
</g>
</svg>
</body>
</html>
